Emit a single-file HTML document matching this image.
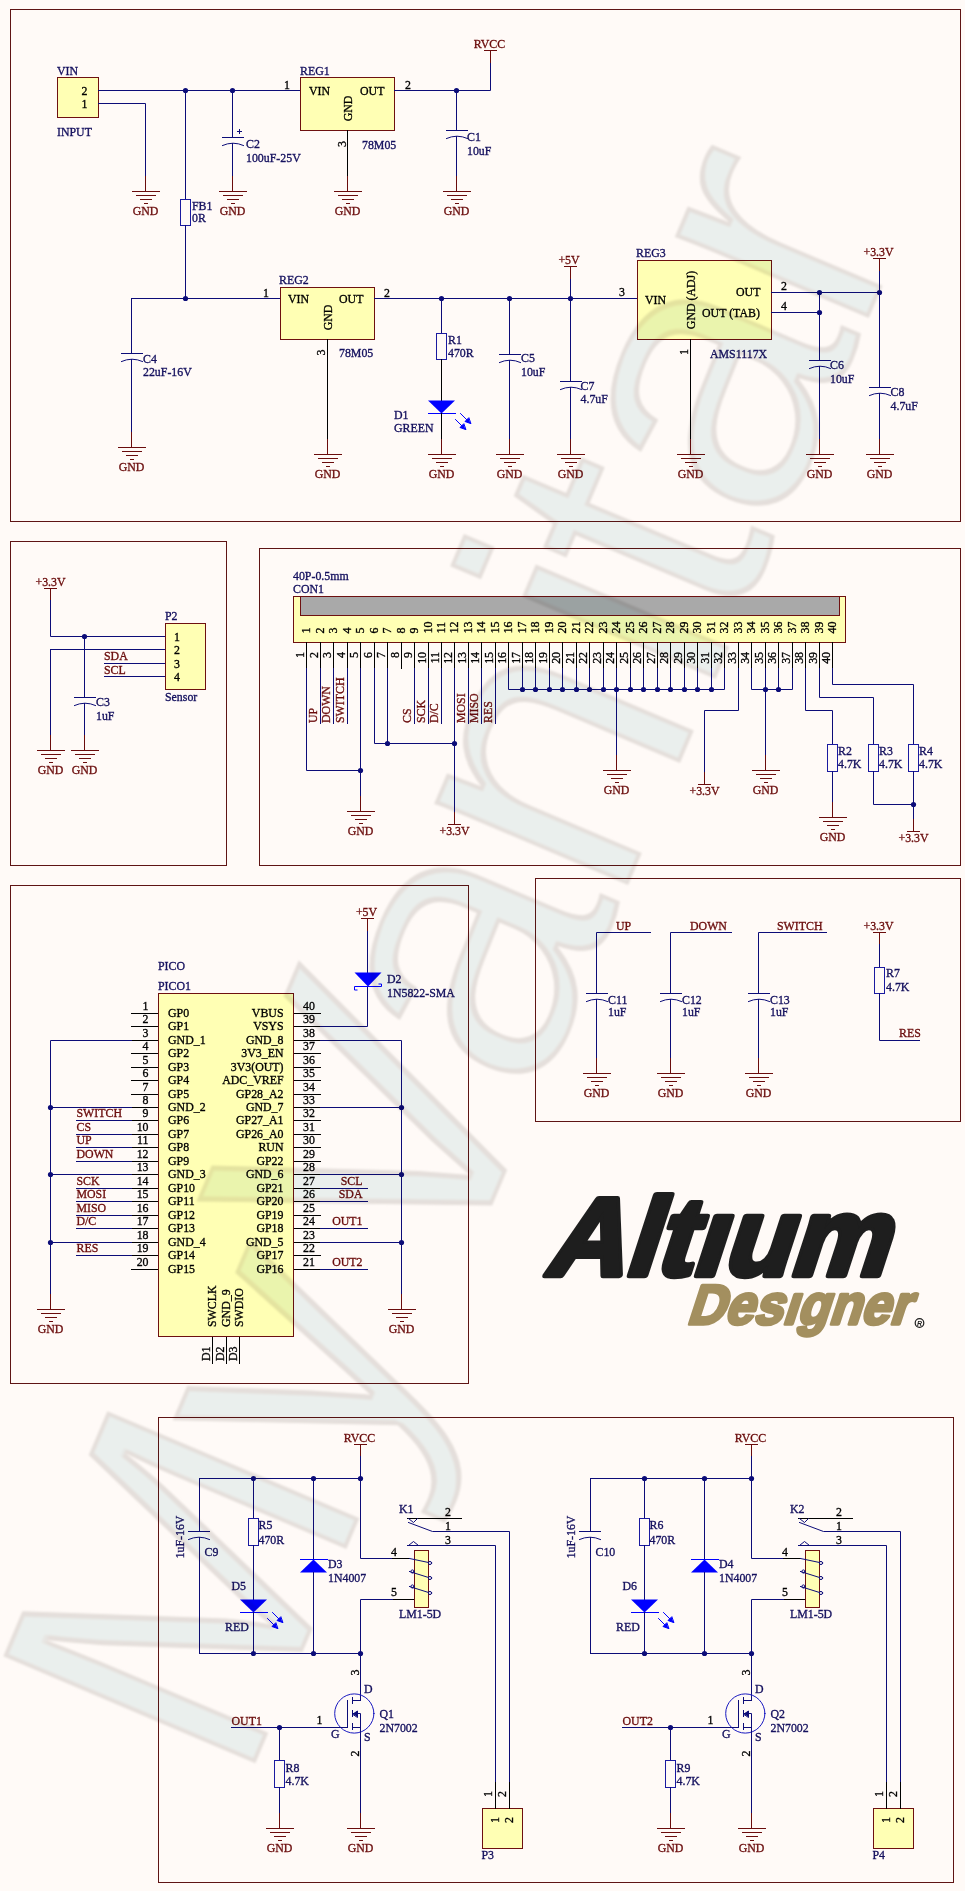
<!DOCTYPE html>
<html><head><meta charset="utf-8"><title>Schematic</title><style>
html,body{margin:0;padding:0;background:#fffaf7;}
svg{display:block;}
text{font-family:"Liberation Serif",serif;font-size:13.5px;stroke-width:0.35px;paint-order:stroke;}
.lg{font-family:"Liberation Sans",sans-serif;font-weight:bold;font-style:italic;}
</style></head>
<body><svg width="965" height="1891" viewBox="0 0 965 1891">
<rect width="965" height="1891" fill="#fffaf7"/>
<g transform="translate(0.5,0.5)" fill="none" stroke-linecap="square" stroke-linejoin="miter">
<rect x="10" y="9" width="950" height="512" fill="none" stroke="#5e1414" stroke-width="1"/>
<rect x="57" y="77" width="41" height="40" fill="#ffffb4" stroke="#6e1010" stroke-width="1"/>
<polyline points="98,90 300,90" stroke="#0c0c78" stroke-width="1"/>
<polyline points="98,103 145,103 145,176" stroke="#0c0c78" stroke-width="1"/>
<polyline points="145,176 145,191" stroke="#6a0c0c" stroke-width="1"/>
<polyline points="132,191 159,191" stroke="#6a0c0c" stroke-width="1"/>
<polyline points="136,195 155,195" stroke="#6a0c0c" stroke-width="1"/>
<polyline points="140,199 151,199" stroke="#6a0c0c" stroke-width="1"/>
<polyline points="144,203 147,203" stroke="#6a0c0c" stroke-width="1"/>
<circle cx="185" cy="90" r="2.6" fill="#0c0c78" stroke="none"/>
<circle cx="232" cy="90" r="2.6" fill="#0c0c78" stroke="none"/>
<polyline points="185,90 185,199" stroke="#0c0c78" stroke-width="1"/>
<rect x="180" y="199" width="10" height="26" fill="none" stroke="#1a1aa0" stroke-width="1"/>
<polyline points="185,225 185,298" stroke="#0c0c78" stroke-width="1"/>
<circle cx="185" cy="298" r="2.6" fill="#0c0c78" stroke="none"/>
<polyline points="232,90 232,137" stroke="#0c0c78" stroke-width="1"/>
<polyline points="222,137 243,137" stroke="#0c0c78" stroke-width="1"/>
<path d="M222,145 Q232.5,140.2 243,145" stroke="#0c0c78" fill="none" stroke-width="1"/>
<polyline points="237,131 241,131" stroke="#0c0c78" stroke-width="1"/>
<polyline points="239,129 239,133" stroke="#0c0c78" stroke-width="1"/>
<polyline points="232,143 232,176" stroke="#0c0c78" stroke-width="1"/>
<polyline points="232,176 232,191" stroke="#6a0c0c" stroke-width="1"/>
<polyline points="219,191 246,191" stroke="#6a0c0c" stroke-width="1"/>
<polyline points="223,195 242,195" stroke="#6a0c0c" stroke-width="1"/>
<polyline points="227,199 238,199" stroke="#6a0c0c" stroke-width="1"/>
<polyline points="231,203 234,203" stroke="#6a0c0c" stroke-width="1"/>
<rect x="300" y="77" width="94" height="53" fill="#ffffb4" stroke="#6e1010" stroke-width="1"/>
<polyline points="347,130 347,176" stroke="#000000" stroke-width="1"/>
<polyline points="347,176 347,191" stroke="#6a0c0c" stroke-width="1"/>
<polyline points="334,191 361,191" stroke="#6a0c0c" stroke-width="1"/>
<polyline points="338,195 357,195" stroke="#6a0c0c" stroke-width="1"/>
<polyline points="342,199 353,199" stroke="#6a0c0c" stroke-width="1"/>
<polyline points="346,203 349,203" stroke="#6a0c0c" stroke-width="1"/>
<polyline points="394,90 490,90 490,62" stroke="#0c0c78" stroke-width="1"/>
<polyline points="484,50 496,50" stroke="#6a0c0c" stroke-width="1"/>
<polyline points="490,50 490,62" stroke="#6a0c0c" stroke-width="1"/>
<circle cx="456" cy="90" r="2.6" fill="#0c0c78" stroke="none"/>
<polyline points="456,90 456,130" stroke="#0c0c78" stroke-width="1"/>
<polyline points="446,130 467,130" stroke="#0c0c78" stroke-width="1"/>
<path d="M446,138 Q456.5,133.2 467,138" stroke="#0c0c78" fill="none" stroke-width="1"/>
<polyline points="456,136 456,176" stroke="#0c0c78" stroke-width="1"/>
<polyline points="456,176 456,191" stroke="#6a0c0c" stroke-width="1"/>
<polyline points="443,191 470,191" stroke="#6a0c0c" stroke-width="1"/>
<polyline points="447,195 466,195" stroke="#6a0c0c" stroke-width="1"/>
<polyline points="451,199 462,199" stroke="#6a0c0c" stroke-width="1"/>
<polyline points="455,203 458,203" stroke="#6a0c0c" stroke-width="1"/>
<polyline points="131,298 280,298" stroke="#0c0c78" stroke-width="1"/>
<polyline points="131,298 131,353" stroke="#0c0c78" stroke-width="1"/>
<polyline points="121,353 142,353" stroke="#0c0c78" stroke-width="1"/>
<path d="M121,361 Q131.5,356.2 142,361" stroke="#0c0c78" fill="none" stroke-width="1"/>
<polyline points="131,359 131,432" stroke="#0c0c78" stroke-width="1"/>
<polyline points="131,432 131,447" stroke="#6a0c0c" stroke-width="1"/>
<polyline points="118,447 145,447" stroke="#6a0c0c" stroke-width="1"/>
<polyline points="122,451 141,451" stroke="#6a0c0c" stroke-width="1"/>
<polyline points="126,455 137,455" stroke="#6a0c0c" stroke-width="1"/>
<polyline points="130,459 133,459" stroke="#6a0c0c" stroke-width="1"/>
<rect x="280" y="287" width="94" height="52" fill="#ffffb4" stroke="#6e1010" stroke-width="1"/>
<polyline points="327,339 327,439" stroke="#000000" stroke-width="1"/>
<polyline points="327,439 327,454" stroke="#6a0c0c" stroke-width="1"/>
<polyline points="314,454 341,454" stroke="#6a0c0c" stroke-width="1"/>
<polyline points="318,458 337,458" stroke="#6a0c0c" stroke-width="1"/>
<polyline points="322,462 333,462" stroke="#6a0c0c" stroke-width="1"/>
<polyline points="326,466 329,466" stroke="#6a0c0c" stroke-width="1"/>
<polyline points="374,298 637,298" stroke="#0c0c78" stroke-width="1"/>
<circle cx="441" cy="298" r="2.6" fill="#0c0c78" stroke="none"/>
<circle cx="509" cy="298" r="2.6" fill="#0c0c78" stroke="none"/>
<circle cx="570" cy="298" r="2.6" fill="#0c0c78" stroke="none"/>
<polyline points="441,298 441,333" stroke="#0c0c78" stroke-width="1"/>
<rect x="436" y="333" width="10" height="26" fill="none" stroke="#1a1aa0" stroke-width="1"/>
<polyline points="441,359 441,400" stroke="#000000" stroke-width="1"/>
<polygon points="427.5,400 454.5,400 441,413" fill="#0000ff" stroke="none" stroke-width="1"/>
<polyline points="428,413 455,413" stroke="#0000ff" stroke-width="1"/>
<polyline points="460,413 468,421" stroke="#0000ff" stroke-width="1"/>
<polygon points="470,423 464.5,421 468,417.5" fill="#0000ff" stroke="#0000ff" stroke-width="1"/>
<polyline points="455,419 463,427" stroke="#0000ff" stroke-width="1"/>
<polygon points="465,429 459.5,427 463,423.5" fill="#0000ff" stroke="#0000ff" stroke-width="1"/>
<polyline points="441,413 441,439" stroke="#000000" stroke-width="1"/>
<polyline points="441,439 441,454" stroke="#6a0c0c" stroke-width="1"/>
<polyline points="428,454 455,454" stroke="#6a0c0c" stroke-width="1"/>
<polyline points="432,458 451,458" stroke="#6a0c0c" stroke-width="1"/>
<polyline points="436,462 447,462" stroke="#6a0c0c" stroke-width="1"/>
<polyline points="440,466 443,466" stroke="#6a0c0c" stroke-width="1"/>
<polyline points="509,298 509,354" stroke="#0c0c78" stroke-width="1"/>
<polyline points="499,354 520,354" stroke="#0c0c78" stroke-width="1"/>
<path d="M499,362 Q509.5,357.2 520,362" stroke="#0c0c78" fill="none" stroke-width="1"/>
<polyline points="509,360 509,439" stroke="#0c0c78" stroke-width="1"/>
<polyline points="509,439 509,454" stroke="#6a0c0c" stroke-width="1"/>
<polyline points="496,454 523,454" stroke="#6a0c0c" stroke-width="1"/>
<polyline points="500,458 519,458" stroke="#6a0c0c" stroke-width="1"/>
<polyline points="504,462 515,462" stroke="#6a0c0c" stroke-width="1"/>
<polyline points="508,466 511,466" stroke="#6a0c0c" stroke-width="1"/>
<polyline points="570,298 570,381" stroke="#0c0c78" stroke-width="1"/>
<polyline points="560,381 581,381" stroke="#0c0c78" stroke-width="1"/>
<path d="M560,389 Q570.5,384.2 581,389" stroke="#0c0c78" fill="none" stroke-width="1"/>
<polyline points="570,387 570,439" stroke="#0c0c78" stroke-width="1"/>
<polyline points="570,439 570,454" stroke="#6a0c0c" stroke-width="1"/>
<polyline points="557,454 584,454" stroke="#6a0c0c" stroke-width="1"/>
<polyline points="561,458 580,458" stroke="#6a0c0c" stroke-width="1"/>
<polyline points="565,462 576,462" stroke="#6a0c0c" stroke-width="1"/>
<polyline points="569,466 572,466" stroke="#6a0c0c" stroke-width="1"/>
<polyline points="570,278 570,298" stroke="#0c0c78" stroke-width="1"/>
<polyline points="564,266 576,266" stroke="#6a0c0c" stroke-width="1"/>
<polyline points="570,266 570,278" stroke="#6a0c0c" stroke-width="1"/>
<rect x="637" y="260" width="134" height="79" fill="#ffffb4" stroke="#6e1010" stroke-width="1"/>
<polyline points="690,339 690,439" stroke="#000000" stroke-width="1"/>
<polyline points="690,439 690,454" stroke="#6a0c0c" stroke-width="1"/>
<polyline points="677,454 704,454" stroke="#6a0c0c" stroke-width="1"/>
<polyline points="681,458 700,458" stroke="#6a0c0c" stroke-width="1"/>
<polyline points="685,462 696,462" stroke="#6a0c0c" stroke-width="1"/>
<polyline points="689,466 692,466" stroke="#6a0c0c" stroke-width="1"/>
<polyline points="771,292 879,292" stroke="#0c0c78" stroke-width="1"/>
<polyline points="771,312 819,312" stroke="#0c0c78" stroke-width="1"/>
<circle cx="819" cy="292" r="2.6" fill="#0c0c78" stroke="none"/>
<circle cx="819" cy="312" r="2.6" fill="#0c0c78" stroke="none"/>
<circle cx="879" cy="292" r="2.6" fill="#0c0c78" stroke="none"/>
<polyline points="819,292 819,360" stroke="#0c0c78" stroke-width="1"/>
<polyline points="809,360 830,360" stroke="#0c0c78" stroke-width="1"/>
<path d="M809,368 Q819.5,363.2 830,368" stroke="#0c0c78" fill="none" stroke-width="1"/>
<polyline points="819,366 819,439" stroke="#0c0c78" stroke-width="1"/>
<polyline points="819,439 819,454" stroke="#6a0c0c" stroke-width="1"/>
<polyline points="806,454 833,454" stroke="#6a0c0c" stroke-width="1"/>
<polyline points="810,458 829,458" stroke="#6a0c0c" stroke-width="1"/>
<polyline points="814,462 825,462" stroke="#6a0c0c" stroke-width="1"/>
<polyline points="818,466 821,466" stroke="#6a0c0c" stroke-width="1"/>
<polyline points="879,270 879,387" stroke="#0c0c78" stroke-width="1"/>
<polyline points="869,387 890,387" stroke="#0c0c78" stroke-width="1"/>
<path d="M869,395 Q879.5,390.2 890,395" stroke="#0c0c78" fill="none" stroke-width="1"/>
<polyline points="879,393 879,439" stroke="#0c0c78" stroke-width="1"/>
<polyline points="879,439 879,454" stroke="#6a0c0c" stroke-width="1"/>
<polyline points="866,454 893,454" stroke="#6a0c0c" stroke-width="1"/>
<polyline points="870,458 889,458" stroke="#6a0c0c" stroke-width="1"/>
<polyline points="874,462 885,462" stroke="#6a0c0c" stroke-width="1"/>
<polyline points="878,466 881,466" stroke="#6a0c0c" stroke-width="1"/>
<polyline points="873,258 885,258" stroke="#6a0c0c" stroke-width="1"/>
<polyline points="879,258 879,270" stroke="#6a0c0c" stroke-width="1"/>
<rect x="10" y="541" width="216" height="324" fill="none" stroke="#5e1414" stroke-width="1"/>
<polyline points="44,588 56,588" stroke="#6a0c0c" stroke-width="1"/>
<polyline points="50,588 50,600" stroke="#6a0c0c" stroke-width="1"/>
<polyline points="50,600 50,636 165,636" stroke="#0c0c78" stroke-width="1"/>
<circle cx="84" cy="636" r="2.6" fill="#0c0c78" stroke="none"/>
<polyline points="50,649 165,649" stroke="#0c0c78" stroke-width="1"/>
<polyline points="50,649 50,735" stroke="#0c0c78" stroke-width="1"/>
<polyline points="50,735 50,750" stroke="#6a0c0c" stroke-width="1"/>
<polyline points="37,750 64,750" stroke="#6a0c0c" stroke-width="1"/>
<polyline points="41,754 60,754" stroke="#6a0c0c" stroke-width="1"/>
<polyline points="45,758 56,758" stroke="#6a0c0c" stroke-width="1"/>
<polyline points="49,762 52,762" stroke="#6a0c0c" stroke-width="1"/>
<polyline points="84,636 84,697" stroke="#0c0c78" stroke-width="1"/>
<polyline points="74,697 95,697" stroke="#0c0c78" stroke-width="1"/>
<path d="M74,705 Q84.5,700.2 95,705" stroke="#0c0c78" fill="none" stroke-width="1"/>
<polyline points="84,703 84,735" stroke="#0c0c78" stroke-width="1"/>
<polyline points="84,735 84,750" stroke="#6a0c0c" stroke-width="1"/>
<polyline points="71,750 98,750" stroke="#6a0c0c" stroke-width="1"/>
<polyline points="75,754 94,754" stroke="#6a0c0c" stroke-width="1"/>
<polyline points="79,758 90,758" stroke="#6a0c0c" stroke-width="1"/>
<polyline points="83,762 86,762" stroke="#6a0c0c" stroke-width="1"/>
<polyline points="104,663 165,663" stroke="#0c0c78" stroke-width="1"/>
<polyline points="104,676 165,676" stroke="#0c0c78" stroke-width="1"/>
<rect x="165" y="623" width="40" height="66" fill="#ffffb4" stroke="#6e1010" stroke-width="1"/>
<rect x="259" y="548" width="701" height="317" fill="none" stroke="#5e1414" stroke-width="1"/>
<rect x="293" y="596" width="552" height="46" fill="#ffffb4" stroke="#6e1010" stroke-width="1"/>
<rect x="300" y="596" width="539" height="19" fill="#a9a9a9" stroke="#6e1010" stroke-width="1"/>
<polyline points="306,642 306,668" stroke="#000000" stroke-width="1"/>
<polyline points="320,642 320,668" stroke="#000000" stroke-width="1"/>
<polyline points="333,642 333,668" stroke="#000000" stroke-width="1"/>
<polyline points="347,642 347,668" stroke="#000000" stroke-width="1"/>
<polyline points="360,642 360,668" stroke="#000000" stroke-width="1"/>
<polyline points="374,642 374,668" stroke="#000000" stroke-width="1"/>
<polyline points="387,642 387,668" stroke="#000000" stroke-width="1"/>
<polyline points="401,642 401,668" stroke="#000000" stroke-width="1"/>
<polyline points="414,642 414,668" stroke="#000000" stroke-width="1"/>
<polyline points="428,642 428,668" stroke="#000000" stroke-width="1"/>
<polyline points="441,642 441,668" stroke="#000000" stroke-width="1"/>
<polyline points="454,642 454,668" stroke="#000000" stroke-width="1"/>
<polyline points="468,642 468,668" stroke="#000000" stroke-width="1"/>
<polyline points="481,642 481,668" stroke="#000000" stroke-width="1"/>
<polyline points="495,642 495,668" stroke="#000000" stroke-width="1"/>
<polyline points="508,642 508,668" stroke="#000000" stroke-width="1"/>
<polyline points="522,642 522,668" stroke="#000000" stroke-width="1"/>
<polyline points="535,642 535,668" stroke="#000000" stroke-width="1"/>
<polyline points="549,642 549,668" stroke="#000000" stroke-width="1"/>
<polyline points="562,642 562,668" stroke="#000000" stroke-width="1"/>
<polyline points="576,642 576,668" stroke="#000000" stroke-width="1"/>
<polyline points="589,642 589,668" stroke="#000000" stroke-width="1"/>
<polyline points="603,642 603,668" stroke="#000000" stroke-width="1"/>
<polyline points="616,642 616,668" stroke="#000000" stroke-width="1"/>
<polyline points="630,642 630,668" stroke="#000000" stroke-width="1"/>
<polyline points="643,642 643,668" stroke="#000000" stroke-width="1"/>
<polyline points="657,642 657,668" stroke="#000000" stroke-width="1"/>
<polyline points="670,642 670,668" stroke="#000000" stroke-width="1"/>
<polyline points="684,642 684,668" stroke="#000000" stroke-width="1"/>
<polyline points="697,642 697,668" stroke="#000000" stroke-width="1"/>
<polyline points="711,642 711,668" stroke="#000000" stroke-width="1"/>
<polyline points="724,642 724,668" stroke="#000000" stroke-width="1"/>
<polyline points="738,642 738,668" stroke="#000000" stroke-width="1"/>
<polyline points="751,642 751,668" stroke="#000000" stroke-width="1"/>
<polyline points="765,642 765,668" stroke="#000000" stroke-width="1"/>
<polyline points="778,642 778,668" stroke="#000000" stroke-width="1"/>
<polyline points="792,642 792,668" stroke="#000000" stroke-width="1"/>
<polyline points="805,642 805,668" stroke="#000000" stroke-width="1"/>
<polyline points="819,642 819,668" stroke="#000000" stroke-width="1"/>
<polyline points="832,642 832,668" stroke="#000000" stroke-width="1"/>
<polyline points="306,668 306,770 360,770" stroke="#0c0c78" stroke-width="1"/>
<circle cx="360" cy="770" r="2.6" fill="#0c0c78" stroke="none"/>
<polyline points="360,668 360,796" stroke="#0c0c78" stroke-width="1"/>
<polyline points="360,796 360,811" stroke="#6a0c0c" stroke-width="1"/>
<polyline points="347,811 374,811" stroke="#6a0c0c" stroke-width="1"/>
<polyline points="351,815 370,815" stroke="#6a0c0c" stroke-width="1"/>
<polyline points="355,819 366,819" stroke="#6a0c0c" stroke-width="1"/>
<polyline points="359,823 362,823" stroke="#6a0c0c" stroke-width="1"/>
<polyline points="320,668 320,723" stroke="#0c0c78" stroke-width="1"/>
<polyline points="333,668 333,723" stroke="#0c0c78" stroke-width="1"/>
<polyline points="347,668 347,723" stroke="#0c0c78" stroke-width="1"/>
<polyline points="414,668 414,723" stroke="#0c0c78" stroke-width="1"/>
<polyline points="428,668 428,723" stroke="#0c0c78" stroke-width="1"/>
<polyline points="441,668 441,723" stroke="#0c0c78" stroke-width="1"/>
<polyline points="468,668 468,723" stroke="#0c0c78" stroke-width="1"/>
<polyline points="481,668 481,723" stroke="#0c0c78" stroke-width="1"/>
<polyline points="495,668 495,723" stroke="#0c0c78" stroke-width="1"/>
<polyline points="374,668 374,743 454,743" stroke="#0c0c78" stroke-width="1"/>
<polyline points="387,668 387,743" stroke="#0c0c78" stroke-width="1"/>
<circle cx="387" cy="743" r="2.6" fill="#0c0c78" stroke="none"/>
<circle cx="454" cy="743" r="2.6" fill="#0c0c78" stroke="none"/>
<polyline points="454,668 454,812" stroke="#0c0c78" stroke-width="1"/>
<polyline points="448,824 460,824" stroke="#6a0c0c" stroke-width="1"/>
<polyline points="454,812 454,824" stroke="#6a0c0c" stroke-width="1"/>
<polyline points="508,668 508,689 724,689 724,668" stroke="#0c0c78" stroke-width="1"/>
<polyline points="522,668 522,689" stroke="#0c0c78" stroke-width="1"/>
<circle cx="522" cy="689" r="2.6" fill="#0c0c78" stroke="none"/>
<polyline points="535,668 535,689" stroke="#0c0c78" stroke-width="1"/>
<circle cx="535" cy="689" r="2.6" fill="#0c0c78" stroke="none"/>
<polyline points="549,668 549,689" stroke="#0c0c78" stroke-width="1"/>
<circle cx="549" cy="689" r="2.6" fill="#0c0c78" stroke="none"/>
<polyline points="562,668 562,689" stroke="#0c0c78" stroke-width="1"/>
<circle cx="562" cy="689" r="2.6" fill="#0c0c78" stroke="none"/>
<polyline points="576,668 576,689" stroke="#0c0c78" stroke-width="1"/>
<circle cx="576" cy="689" r="2.6" fill="#0c0c78" stroke="none"/>
<polyline points="589,668 589,689" stroke="#0c0c78" stroke-width="1"/>
<circle cx="589" cy="689" r="2.6" fill="#0c0c78" stroke="none"/>
<polyline points="603,668 603,689" stroke="#0c0c78" stroke-width="1"/>
<circle cx="603" cy="689" r="2.6" fill="#0c0c78" stroke="none"/>
<polyline points="616,668 616,689" stroke="#0c0c78" stroke-width="1"/>
<circle cx="616" cy="689" r="2.6" fill="#0c0c78" stroke="none"/>
<polyline points="630,668 630,689" stroke="#0c0c78" stroke-width="1"/>
<circle cx="630" cy="689" r="2.6" fill="#0c0c78" stroke="none"/>
<polyline points="643,668 643,689" stroke="#0c0c78" stroke-width="1"/>
<circle cx="643" cy="689" r="2.6" fill="#0c0c78" stroke="none"/>
<polyline points="657,668 657,689" stroke="#0c0c78" stroke-width="1"/>
<circle cx="657" cy="689" r="2.6" fill="#0c0c78" stroke="none"/>
<polyline points="670,668 670,689" stroke="#0c0c78" stroke-width="1"/>
<circle cx="670" cy="689" r="2.6" fill="#0c0c78" stroke="none"/>
<polyline points="684,668 684,689" stroke="#0c0c78" stroke-width="1"/>
<circle cx="684" cy="689" r="2.6" fill="#0c0c78" stroke="none"/>
<polyline points="697,668 697,689" stroke="#0c0c78" stroke-width="1"/>
<circle cx="697" cy="689" r="2.6" fill="#0c0c78" stroke="none"/>
<polyline points="711,668 711,689" stroke="#0c0c78" stroke-width="1"/>
<circle cx="711" cy="689" r="2.6" fill="#0c0c78" stroke="none"/>
<polyline points="616,689 616,755" stroke="#0c0c78" stroke-width="1"/>
<polyline points="616,755 616,770" stroke="#6a0c0c" stroke-width="1"/>
<polyline points="603,770 630,770" stroke="#6a0c0c" stroke-width="1"/>
<polyline points="607,774 626,774" stroke="#6a0c0c" stroke-width="1"/>
<polyline points="611,778 622,778" stroke="#6a0c0c" stroke-width="1"/>
<polyline points="615,782 618,782" stroke="#6a0c0c" stroke-width="1"/>
<polyline points="738,668 738,710 704,710 704,772" stroke="#0c0c78" stroke-width="1"/>
<polyline points="698,784 710,784" stroke="#6a0c0c" stroke-width="1"/>
<polyline points="704,772 704,784" stroke="#6a0c0c" stroke-width="1"/>
<polyline points="751,668 751,689 792,689 792,668" stroke="#0c0c78" stroke-width="1"/>
<polyline points="765,668 765,755" stroke="#0c0c78" stroke-width="1"/>
<polyline points="778,668 778,689" stroke="#0c0c78" stroke-width="1"/>
<circle cx="765" cy="689" r="2.6" fill="#0c0c78" stroke="none"/>
<circle cx="778" cy="689" r="2.6" fill="#0c0c78" stroke="none"/>
<polyline points="765,755 765,770" stroke="#6a0c0c" stroke-width="1"/>
<polyline points="752,770 779,770" stroke="#6a0c0c" stroke-width="1"/>
<polyline points="756,774 775,774" stroke="#6a0c0c" stroke-width="1"/>
<polyline points="760,778 771,778" stroke="#6a0c0c" stroke-width="1"/>
<polyline points="764,782 767,782" stroke="#6a0c0c" stroke-width="1"/>
<polyline points="805,668 805,710 832,710 832,744" stroke="#0c0c78" stroke-width="1"/>
<rect x="827" y="744" width="10" height="27" fill="none" stroke="#1a1aa0" stroke-width="1"/>
<polyline points="832,771 832,802" stroke="#0c0c78" stroke-width="1"/>
<polyline points="832,802 832,817" stroke="#6a0c0c" stroke-width="1"/>
<polyline points="819,817 846,817" stroke="#6a0c0c" stroke-width="1"/>
<polyline points="823,821 842,821" stroke="#6a0c0c" stroke-width="1"/>
<polyline points="827,825 838,825" stroke="#6a0c0c" stroke-width="1"/>
<polyline points="831,829 834,829" stroke="#6a0c0c" stroke-width="1"/>
<polyline points="819,668 819,697 873,697 873,744" stroke="#0c0c78" stroke-width="1"/>
<rect x="868" y="744" width="10" height="27" fill="none" stroke="#1a1aa0" stroke-width="1"/>
<polyline points="873,771 873,804 913,804" stroke="#0c0c78" stroke-width="1"/>
<polyline points="832,668 832,684 913,684 913,744" stroke="#0c0c78" stroke-width="1"/>
<rect x="908" y="744" width="10" height="27" fill="none" stroke="#1a1aa0" stroke-width="1"/>
<polyline points="913,771 913,819" stroke="#0c0c78" stroke-width="1"/>
<circle cx="913" cy="804" r="2.6" fill="#0c0c78" stroke="none"/>
<polyline points="907,831 919,831" stroke="#6a0c0c" stroke-width="1"/>
<polyline points="913,819 913,831" stroke="#6a0c0c" stroke-width="1"/>
<rect x="10" y="885" width="458" height="498" fill="none" stroke="#5e1414" stroke-width="1"/>
<rect x="158" y="993" width="135" height="343" fill="#ffffb4" stroke="#6e1010" stroke-width="1"/>
<polyline points="131,1013 157,1013" stroke="#000000" stroke-width="1"/>
<polyline points="294,1013 320,1013" stroke="#000000" stroke-width="1"/>
<polyline points="131,1026 157,1026" stroke="#000000" stroke-width="1"/>
<polyline points="294,1026 320,1026" stroke="#000000" stroke-width="1"/>
<polyline points="131,1040 157,1040" stroke="#000000" stroke-width="1"/>
<polyline points="294,1040 320,1040" stroke="#000000" stroke-width="1"/>
<polyline points="131,1053 157,1053" stroke="#000000" stroke-width="1"/>
<polyline points="294,1053 320,1053" stroke="#000000" stroke-width="1"/>
<polyline points="131,1067 157,1067" stroke="#000000" stroke-width="1"/>
<polyline points="294,1067 320,1067" stroke="#000000" stroke-width="1"/>
<polyline points="131,1080 157,1080" stroke="#000000" stroke-width="1"/>
<polyline points="294,1080 320,1080" stroke="#000000" stroke-width="1"/>
<polyline points="131,1094 157,1094" stroke="#000000" stroke-width="1"/>
<polyline points="294,1094 320,1094" stroke="#000000" stroke-width="1"/>
<polyline points="131,1107 157,1107" stroke="#000000" stroke-width="1"/>
<polyline points="294,1107 320,1107" stroke="#000000" stroke-width="1"/>
<polyline points="131,1120 157,1120" stroke="#000000" stroke-width="1"/>
<polyline points="294,1120 320,1120" stroke="#000000" stroke-width="1"/>
<polyline points="131,1134 157,1134" stroke="#000000" stroke-width="1"/>
<polyline points="294,1134 320,1134" stroke="#000000" stroke-width="1"/>
<polyline points="131,1147 157,1147" stroke="#000000" stroke-width="1"/>
<polyline points="294,1147 320,1147" stroke="#000000" stroke-width="1"/>
<polyline points="131,1161 157,1161" stroke="#000000" stroke-width="1"/>
<polyline points="294,1161 320,1161" stroke="#000000" stroke-width="1"/>
<polyline points="131,1174 157,1174" stroke="#000000" stroke-width="1"/>
<polyline points="294,1174 320,1174" stroke="#000000" stroke-width="1"/>
<polyline points="131,1188 157,1188" stroke="#000000" stroke-width="1"/>
<polyline points="294,1188 320,1188" stroke="#000000" stroke-width="1"/>
<polyline points="131,1201 157,1201" stroke="#000000" stroke-width="1"/>
<polyline points="294,1201 320,1201" stroke="#000000" stroke-width="1"/>
<polyline points="131,1215 157,1215" stroke="#000000" stroke-width="1"/>
<polyline points="294,1215 320,1215" stroke="#000000" stroke-width="1"/>
<polyline points="131,1228 157,1228" stroke="#000000" stroke-width="1"/>
<polyline points="294,1228 320,1228" stroke="#000000" stroke-width="1"/>
<polyline points="131,1242 157,1242" stroke="#000000" stroke-width="1"/>
<polyline points="294,1242 320,1242" stroke="#000000" stroke-width="1"/>
<polyline points="131,1255 157,1255" stroke="#000000" stroke-width="1"/>
<polyline points="294,1255 320,1255" stroke="#000000" stroke-width="1"/>
<polyline points="131,1269 157,1269" stroke="#000000" stroke-width="1"/>
<polyline points="294,1269 320,1269" stroke="#000000" stroke-width="1"/>
<polyline points="131,1040 50,1040 50,1294" stroke="#0c0c78" stroke-width="1"/>
<polyline points="50,1294 50,1309" stroke="#6a0c0c" stroke-width="1"/>
<polyline points="37,1309 64,1309" stroke="#6a0c0c" stroke-width="1"/>
<polyline points="41,1313 60,1313" stroke="#6a0c0c" stroke-width="1"/>
<polyline points="45,1317 56,1317" stroke="#6a0c0c" stroke-width="1"/>
<polyline points="49,1321 52,1321" stroke="#6a0c0c" stroke-width="1"/>
<polyline points="50,1107 131,1107" stroke="#0c0c78" stroke-width="1"/>
<circle cx="50" cy="1107" r="2.6" fill="#0c0c78" stroke="none"/>
<polyline points="50,1174 131,1174" stroke="#0c0c78" stroke-width="1"/>
<circle cx="50" cy="1174" r="2.6" fill="#0c0c78" stroke="none"/>
<polyline points="50,1242 131,1242" stroke="#0c0c78" stroke-width="1"/>
<circle cx="50" cy="1242" r="2.6" fill="#0c0c78" stroke="none"/>
<polyline points="76,1120 131,1120" stroke="#0c0c78" stroke-width="1"/>
<polyline points="76,1134 131,1134" stroke="#0c0c78" stroke-width="1"/>
<polyline points="76,1147 131,1147" stroke="#0c0c78" stroke-width="1"/>
<polyline points="76,1161 131,1161" stroke="#0c0c78" stroke-width="1"/>
<polyline points="76,1188 131,1188" stroke="#0c0c78" stroke-width="1"/>
<polyline points="76,1201 131,1201" stroke="#0c0c78" stroke-width="1"/>
<polyline points="76,1215 131,1215" stroke="#0c0c78" stroke-width="1"/>
<polyline points="76,1228 131,1228" stroke="#0c0c78" stroke-width="1"/>
<polyline points="76,1255 131,1255" stroke="#0c0c78" stroke-width="1"/>
<polyline points="320,1026 367,1026 367,986" stroke="#0c0c78" stroke-width="1"/>
<polyline points="367,930 367,972" stroke="#0c0c78" stroke-width="1"/>
<polyline points="361,918 373,918" stroke="#6a0c0c" stroke-width="1"/>
<polyline points="367,918 367,930" stroke="#6a0c0c" stroke-width="1"/>
<polygon points="354,972 381,972 367.5,986" fill="#0000ff" stroke="none" stroke-width="1"/>
<polyline points="356.5,989.5 354,989.5 354,986 381,986 381,983.5 378.5,983.5" stroke="#0000ff" stroke-width="1"/>
<polyline points="320,1040 401,1040 401,1294" stroke="#0c0c78" stroke-width="1"/>
<polyline points="401,1294 401,1309" stroke="#6a0c0c" stroke-width="1"/>
<polyline points="388,1309 415,1309" stroke="#6a0c0c" stroke-width="1"/>
<polyline points="392,1313 411,1313" stroke="#6a0c0c" stroke-width="1"/>
<polyline points="396,1317 407,1317" stroke="#6a0c0c" stroke-width="1"/>
<polyline points="400,1321 403,1321" stroke="#6a0c0c" stroke-width="1"/>
<polyline points="320,1107 401,1107" stroke="#0c0c78" stroke-width="1"/>
<circle cx="401" cy="1107" r="2.6" fill="#0c0c78" stroke="none"/>
<polyline points="320,1174 401,1174" stroke="#0c0c78" stroke-width="1"/>
<circle cx="401" cy="1174" r="2.6" fill="#0c0c78" stroke="none"/>
<polyline points="320,1242 401,1242" stroke="#0c0c78" stroke-width="1"/>
<circle cx="401" cy="1242" r="2.6" fill="#0c0c78" stroke="none"/>
<polyline points="320,1188 367,1188" stroke="#0c0c78" stroke-width="1"/>
<polyline points="320,1201 367,1201" stroke="#0c0c78" stroke-width="1"/>
<polyline points="320,1228 367,1228" stroke="#0c0c78" stroke-width="1"/>
<polyline points="320,1269 367,1269" stroke="#0c0c78" stroke-width="1"/>
<polyline points="212,1337 212,1363" stroke="#000000" stroke-width="1"/>
<polyline points="226,1337 226,1363" stroke="#000000" stroke-width="1"/>
<polyline points="239,1337 239,1363" stroke="#000000" stroke-width="1"/>
<rect x="535" y="878" width="425" height="243" fill="none" stroke="#5e1414" stroke-width="1"/>
<polyline points="650,932 596,932 596,993" stroke="#0c0c78" stroke-width="1"/>
<polyline points="586,993 607,993" stroke="#0c0c78" stroke-width="1"/>
<path d="M586,1001 Q596.5,996.2 607,1001" stroke="#0c0c78" fill="none" stroke-width="1"/>
<polyline points="596,999 596,1058" stroke="#0c0c78" stroke-width="1"/>
<polyline points="596,1058 596,1073" stroke="#6a0c0c" stroke-width="1"/>
<polyline points="583,1073 610,1073" stroke="#6a0c0c" stroke-width="1"/>
<polyline points="587,1077 606,1077" stroke="#6a0c0c" stroke-width="1"/>
<polyline points="591,1081 602,1081" stroke="#6a0c0c" stroke-width="1"/>
<polyline points="595,1085 598,1085" stroke="#6a0c0c" stroke-width="1"/>
<polyline points="731,932 670,932 670,993" stroke="#0c0c78" stroke-width="1"/>
<polyline points="660,993 681,993" stroke="#0c0c78" stroke-width="1"/>
<path d="M660,1001 Q670.5,996.2 681,1001" stroke="#0c0c78" fill="none" stroke-width="1"/>
<polyline points="670,999 670,1058" stroke="#0c0c78" stroke-width="1"/>
<polyline points="670,1058 670,1073" stroke="#6a0c0c" stroke-width="1"/>
<polyline points="657,1073 684,1073" stroke="#6a0c0c" stroke-width="1"/>
<polyline points="661,1077 680,1077" stroke="#6a0c0c" stroke-width="1"/>
<polyline points="665,1081 676,1081" stroke="#6a0c0c" stroke-width="1"/>
<polyline points="669,1085 672,1085" stroke="#6a0c0c" stroke-width="1"/>
<polyline points="826,932 758,932 758,993" stroke="#0c0c78" stroke-width="1"/>
<polyline points="748,993 769,993" stroke="#0c0c78" stroke-width="1"/>
<path d="M748,1001 Q758.5,996.2 769,1001" stroke="#0c0c78" fill="none" stroke-width="1"/>
<polyline points="758,999 758,1058" stroke="#0c0c78" stroke-width="1"/>
<polyline points="758,1058 758,1073" stroke="#6a0c0c" stroke-width="1"/>
<polyline points="745,1073 772,1073" stroke="#6a0c0c" stroke-width="1"/>
<polyline points="749,1077 768,1077" stroke="#6a0c0c" stroke-width="1"/>
<polyline points="753,1081 764,1081" stroke="#6a0c0c" stroke-width="1"/>
<polyline points="757,1085 760,1085" stroke="#6a0c0c" stroke-width="1"/>
<polyline points="873,932 885,932" stroke="#6a0c0c" stroke-width="1"/>
<polyline points="879,932 879,944" stroke="#6a0c0c" stroke-width="1"/>
<polyline points="879,944 879,967" stroke="#0c0c78" stroke-width="1"/>
<rect x="874" y="967" width="10" height="26" fill="none" stroke="#1a1aa0" stroke-width="1"/>
<polyline points="879,993 879,1040 919,1040" stroke="#0c0c78" stroke-width="1"/>
<rect x="158" y="1417" width="795" height="465" fill="none" stroke="#5e1414" stroke-width="1"/>
<polyline points="354,1444 366,1444" stroke="#6a0c0c" stroke-width="1"/>
<polyline points="360,1444 360,1456" stroke="#6a0c0c" stroke-width="1"/>
<polyline points="360,1456 360,1478" stroke="#0c0c78" stroke-width="1"/>
<polyline points="199,1478 360,1478" stroke="#0c0c78" stroke-width="1"/>
<polyline points="199,1653 360,1653" stroke="#0c0c78" stroke-width="1"/>
<circle cx="253" cy="1478" r="2.6" fill="#0c0c78" stroke="none"/>
<circle cx="253" cy="1653" r="2.6" fill="#0c0c78" stroke="none"/>
<circle cx="313" cy="1478" r="2.6" fill="#0c0c78" stroke="none"/>
<circle cx="313" cy="1653" r="2.6" fill="#0c0c78" stroke="none"/>
<circle cx="360" cy="1478" r="2.6" fill="#0c0c78" stroke="none"/>
<circle cx="360" cy="1653" r="2.6" fill="#0c0c78" stroke="none"/>
<polyline points="199,1478 199,1531" stroke="#0c0c78" stroke-width="1"/>
<polyline points="188,1531 209,1531" stroke="#0c0c78" stroke-width="1"/>
<path d="M188,1539 Q198.5,1534.2 209,1539" stroke="#0c0c78" fill="none" stroke-width="1"/>
<polyline points="199,1537 199,1653" stroke="#0c0c78" stroke-width="1"/>
<polyline points="253,1478 253,1518" stroke="#0c0c78" stroke-width="1"/>
<rect x="248" y="1518" width="10" height="27" fill="none" stroke="#1a1aa0" stroke-width="1"/>
<polyline points="253,1545 253,1599" stroke="#0c0c78" stroke-width="1"/>
<polygon points="239.5,1599 266.5,1599 253,1612" fill="#0000ff" stroke="none" stroke-width="1"/>
<polyline points="240,1612 267,1612" stroke="#0000ff" stroke-width="1"/>
<polyline points="272,1612 280,1620" stroke="#0000ff" stroke-width="1"/>
<polygon points="282,1622 276.5,1620 280,1616.5" fill="#0000ff" stroke="#0000ff" stroke-width="1"/>
<polyline points="267,1618 275,1626" stroke="#0000ff" stroke-width="1"/>
<polygon points="277,1628 271.5,1626 275,1622.5" fill="#0000ff" stroke="#0000ff" stroke-width="1"/>
<polyline points="253,1612 253,1653" stroke="#0c0c78" stroke-width="1"/>
<polyline points="313,1478 313,1559" stroke="#0c0c78" stroke-width="1"/>
<polygon points="299.5,1572 326.5,1572 313,1559" fill="#0000ff" stroke="none" stroke-width="1"/>
<polyline points="300,1559 327,1559" stroke="#0000ff" stroke-width="1"/>
<polyline points="313,1572 313,1653" stroke="#0c0c78" stroke-width="1"/>
<polyline points="360,1478 360,1558 392,1558" stroke="#0c0c78" stroke-width="1"/>
<polyline points="392,1558 409,1558" stroke="#000000" stroke-width="1"/>
<polyline points="414,1599 392,1599" stroke="#000000" stroke-width="1"/>
<polyline points="392,1599 360,1599 360,1653" stroke="#0c0c78" stroke-width="1"/>
<rect x="414" y="1550" width="14" height="57" fill="#ffffb4" stroke="#6e1010" stroke-width="1"/>
<polyline points="409,1558 428,1562" stroke="#0c0c78" stroke-width="1"/>
<circle cx="429.5" cy="1562.5" r="1.6" stroke="#0c0c78" fill="none"/>
<polyline points="409,1571 428,1577" stroke="#0c0c78" stroke-width="1"/>
<circle cx="429.5" cy="1577.5" r="1.6" stroke="#0c0c78" fill="none"/>
<polyline points="409,1586 428,1592" stroke="#0c0c78" stroke-width="1"/>
<circle cx="429.5" cy="1592.5" r="1.6" stroke="#0c0c78" fill="none"/>
<circle cx="412" cy="1571" r="1.6" stroke="#0c0c78" fill="none"/>
<circle cx="412" cy="1586" r="1.6" stroke="#0c0c78" fill="none"/>
<polyline points="407,1518 461,1518" stroke="#000000" stroke-width="1"/>
<polyline points="408,1518 413,1522 417,1518" stroke="#0c0c78" stroke-width="1"/>
<polyline points="408,1522 432,1531 480,1531" stroke="#0c0c78" stroke-width="1"/>
<polyline points="480,1531 509,1531 509,1808" stroke="#0c0c78" stroke-width="1"/>
<polyline points="407,1545 495,1545 495,1808" stroke="#0c0c78" stroke-width="1"/>
<polyline points="408,1545 413,1541 418,1545" stroke="#0c0c78" stroke-width="1"/>
<rect x="482" y="1808" width="40" height="40" fill="#ffffb4" stroke="#6e1010" stroke-width="1"/>
<polyline points="495,1782 495,1808" stroke="#000000" stroke-width="1"/>
<polyline points="509,1782 509,1808" stroke="#000000" stroke-width="1"/>
<polyline points="360,1653 360,1700" stroke="#0c0c78" stroke-width="1"/>
<polyline points="360,1700 352,1700" stroke="#0c0c78" stroke-width="1"/>
<polyline points="352,1697 352,1703" stroke="#0c0c78" stroke-width="1"/>
<polyline points="352,1710 352,1716" stroke="#0c0c78" stroke-width="1"/>
<polyline points="352,1723 352,1729" stroke="#0c0c78" stroke-width="1"/>
<polyline points="352,1713 360,1713 360,1727 352,1727" stroke="#0c0c78" stroke-width="1"/>
<polygon points="352.5,1713.5 357,1710.5 357,1716.5" fill="#0c0c78" stroke="#0c0c78" stroke-width="1"/>
<polyline points="347,1700 347,1727" stroke="#0c0c78" stroke-width="1"/>
<circle cx="353.8" cy="1713" r="19.6" stroke="#1818c0" fill="none"/>
<polyline points="360,1727 360,1813" stroke="#0c0c78" stroke-width="1"/>
<polyline points="360,1813 360,1828" stroke="#6a0c0c" stroke-width="1"/>
<polyline points="347,1828 374,1828" stroke="#6a0c0c" stroke-width="1"/>
<polyline points="351,1832 370,1832" stroke="#6a0c0c" stroke-width="1"/>
<polyline points="355,1836 366,1836" stroke="#6a0c0c" stroke-width="1"/>
<polyline points="359,1840 362,1840" stroke="#6a0c0c" stroke-width="1"/>
<polyline points="231,1727 347,1727" stroke="#0c0c78" stroke-width="1"/>
<circle cx="279" cy="1727" r="2.6" fill="#0c0c78" stroke="none"/>
<polyline points="279,1727 279,1760" stroke="#0c0c78" stroke-width="1"/>
<rect x="274" y="1760" width="10" height="27" fill="none" stroke="#1a1aa0" stroke-width="1"/>
<polyline points="279,1787 279,1813" stroke="#0c0c78" stroke-width="1"/>
<polyline points="279,1813 279,1828" stroke="#6a0c0c" stroke-width="1"/>
<polyline points="266,1828 293,1828" stroke="#6a0c0c" stroke-width="1"/>
<polyline points="270,1832 289,1832" stroke="#6a0c0c" stroke-width="1"/>
<polyline points="274,1836 285,1836" stroke="#6a0c0c" stroke-width="1"/>
<polyline points="278,1840 281,1840" stroke="#6a0c0c" stroke-width="1"/>
<polyline points="745,1444 757,1444" stroke="#6a0c0c" stroke-width="1"/>
<polyline points="751,1444 751,1456" stroke="#6a0c0c" stroke-width="1"/>
<polyline points="751,1456 751,1478" stroke="#0c0c78" stroke-width="1"/>
<polyline points="590,1478 751,1478" stroke="#0c0c78" stroke-width="1"/>
<polyline points="590,1653 751,1653" stroke="#0c0c78" stroke-width="1"/>
<circle cx="644" cy="1478" r="2.6" fill="#0c0c78" stroke="none"/>
<circle cx="644" cy="1653" r="2.6" fill="#0c0c78" stroke="none"/>
<circle cx="704" cy="1478" r="2.6" fill="#0c0c78" stroke="none"/>
<circle cx="704" cy="1653" r="2.6" fill="#0c0c78" stroke="none"/>
<circle cx="751" cy="1478" r="2.6" fill="#0c0c78" stroke="none"/>
<circle cx="751" cy="1653" r="2.6" fill="#0c0c78" stroke="none"/>
<polyline points="590,1478 590,1531" stroke="#0c0c78" stroke-width="1"/>
<polyline points="579,1531 600,1531" stroke="#0c0c78" stroke-width="1"/>
<path d="M579,1539 Q589.5,1534.2 600,1539" stroke="#0c0c78" fill="none" stroke-width="1"/>
<polyline points="590,1537 590,1653" stroke="#0c0c78" stroke-width="1"/>
<polyline points="644,1478 644,1518" stroke="#0c0c78" stroke-width="1"/>
<rect x="639" y="1518" width="10" height="27" fill="none" stroke="#1a1aa0" stroke-width="1"/>
<polyline points="644,1545 644,1599" stroke="#0c0c78" stroke-width="1"/>
<polygon points="630.5,1599 657.5,1599 644,1612" fill="#0000ff" stroke="none" stroke-width="1"/>
<polyline points="631,1612 658,1612" stroke="#0000ff" stroke-width="1"/>
<polyline points="663,1612 671,1620" stroke="#0000ff" stroke-width="1"/>
<polygon points="673,1622 667.5,1620 671,1616.5" fill="#0000ff" stroke="#0000ff" stroke-width="1"/>
<polyline points="658,1618 666,1626" stroke="#0000ff" stroke-width="1"/>
<polygon points="668,1628 662.5,1626 666,1622.5" fill="#0000ff" stroke="#0000ff" stroke-width="1"/>
<polyline points="644,1612 644,1653" stroke="#0c0c78" stroke-width="1"/>
<polyline points="704,1478 704,1559" stroke="#0c0c78" stroke-width="1"/>
<polygon points="690.5,1572 717.5,1572 704,1559" fill="#0000ff" stroke="none" stroke-width="1"/>
<polyline points="691,1559 718,1559" stroke="#0000ff" stroke-width="1"/>
<polyline points="704,1572 704,1653" stroke="#0c0c78" stroke-width="1"/>
<polyline points="751,1478 751,1558 783,1558" stroke="#0c0c78" stroke-width="1"/>
<polyline points="783,1558 800,1558" stroke="#000000" stroke-width="1"/>
<polyline points="805,1599 783,1599" stroke="#000000" stroke-width="1"/>
<polyline points="783,1599 751,1599 751,1653" stroke="#0c0c78" stroke-width="1"/>
<rect x="805" y="1550" width="14" height="57" fill="#ffffb4" stroke="#6e1010" stroke-width="1"/>
<polyline points="800,1558 819,1562" stroke="#0c0c78" stroke-width="1"/>
<circle cx="820.5" cy="1562.5" r="1.6" stroke="#0c0c78" fill="none"/>
<polyline points="800,1571 819,1577" stroke="#0c0c78" stroke-width="1"/>
<circle cx="820.5" cy="1577.5" r="1.6" stroke="#0c0c78" fill="none"/>
<polyline points="800,1586 819,1592" stroke="#0c0c78" stroke-width="1"/>
<circle cx="820.5" cy="1592.5" r="1.6" stroke="#0c0c78" fill="none"/>
<circle cx="803" cy="1571" r="1.6" stroke="#0c0c78" fill="none"/>
<circle cx="803" cy="1586" r="1.6" stroke="#0c0c78" fill="none"/>
<polyline points="798,1518 852,1518" stroke="#000000" stroke-width="1"/>
<polyline points="799,1518 804,1522 808,1518" stroke="#0c0c78" stroke-width="1"/>
<polyline points="799,1522 823,1531 871,1531" stroke="#0c0c78" stroke-width="1"/>
<polyline points="871,1531 900,1531 900,1808" stroke="#0c0c78" stroke-width="1"/>
<polyline points="798,1545 886,1545 886,1808" stroke="#0c0c78" stroke-width="1"/>
<polyline points="799,1545 804,1541 809,1545" stroke="#0c0c78" stroke-width="1"/>
<rect x="873" y="1808" width="40" height="40" fill="#ffffb4" stroke="#6e1010" stroke-width="1"/>
<polyline points="886,1782 886,1808" stroke="#000000" stroke-width="1"/>
<polyline points="900,1782 900,1808" stroke="#000000" stroke-width="1"/>
<polyline points="751,1653 751,1700" stroke="#0c0c78" stroke-width="1"/>
<polyline points="751,1700 743,1700" stroke="#0c0c78" stroke-width="1"/>
<polyline points="743,1697 743,1703" stroke="#0c0c78" stroke-width="1"/>
<polyline points="743,1710 743,1716" stroke="#0c0c78" stroke-width="1"/>
<polyline points="743,1723 743,1729" stroke="#0c0c78" stroke-width="1"/>
<polyline points="743,1713 751,1713 751,1727 743,1727" stroke="#0c0c78" stroke-width="1"/>
<polygon points="743.5,1713.5 748,1710.5 748,1716.5" fill="#0c0c78" stroke="#0c0c78" stroke-width="1"/>
<polyline points="738,1700 738,1727" stroke="#0c0c78" stroke-width="1"/>
<circle cx="744.8" cy="1713" r="19.6" stroke="#1818c0" fill="none"/>
<polyline points="751,1727 751,1813" stroke="#0c0c78" stroke-width="1"/>
<polyline points="751,1813 751,1828" stroke="#6a0c0c" stroke-width="1"/>
<polyline points="738,1828 765,1828" stroke="#6a0c0c" stroke-width="1"/>
<polyline points="742,1832 761,1832" stroke="#6a0c0c" stroke-width="1"/>
<polyline points="746,1836 757,1836" stroke="#6a0c0c" stroke-width="1"/>
<polyline points="750,1840 753,1840" stroke="#6a0c0c" stroke-width="1"/>
<polyline points="622,1727 738,1727" stroke="#0c0c78" stroke-width="1"/>
<circle cx="670" cy="1727" r="2.6" fill="#0c0c78" stroke="none"/>
<polyline points="670,1727 670,1760" stroke="#0c0c78" stroke-width="1"/>
<rect x="665" y="1760" width="10" height="27" fill="none" stroke="#1a1aa0" stroke-width="1"/>
<polyline points="670,1787 670,1813" stroke="#0c0c78" stroke-width="1"/>
<polyline points="670,1813 670,1828" stroke="#6a0c0c" stroke-width="1"/>
<polyline points="657,1828 684,1828" stroke="#6a0c0c" stroke-width="1"/>
<polyline points="661,1832 680,1832" stroke="#6a0c0c" stroke-width="1"/>
<polyline points="665,1836 676,1836" stroke="#6a0c0c" stroke-width="1"/>
<polyline points="669,1840 672,1840" stroke="#6a0c0c" stroke-width="1"/>
</g>
<g>
<text transform="translate(57,74.5) scale(0.88,1)" fill="#14105e" stroke="#14105e" text-anchor="start">VIN</text>
<text transform="translate(57,135.5) scale(0.88,1)" fill="#14105e" stroke="#14105e" text-anchor="start">INPUT</text>
<text transform="translate(84.5,94.5) scale(0.88,1)" fill="#000000" stroke="#000000" text-anchor="middle">2</text>
<text transform="translate(84.5,107.5) scale(0.88,1)" fill="#000000" stroke="#000000" text-anchor="middle">1</text>
<text transform="translate(145.5,215) scale(0.88,1)" fill="#6a0c0c" stroke="#6a0c0c" text-anchor="middle">GND</text>
<text transform="translate(192,209.5) scale(0.88,1)" fill="#14105e" stroke="#14105e" text-anchor="start">FB1</text>
<text transform="translate(192,222) scale(0.88,1)" fill="#14105e" stroke="#14105e" text-anchor="start">0R</text>
<text transform="translate(232.5,215) scale(0.88,1)" fill="#6a0c0c" stroke="#6a0c0c" text-anchor="middle">GND</text>
<text transform="translate(246,148) scale(0.88,1)" fill="#14105e" stroke="#14105e" text-anchor="start">C2</text>
<text transform="translate(246,162) scale(0.88,1)" fill="#14105e" stroke="#14105e" text-anchor="start">100uF-25V</text>
<text transform="translate(300,75) scale(0.88,1)" fill="#14105e" stroke="#14105e" text-anchor="start">REG1</text>
<text transform="translate(309,94.5) scale(0.88,1)" fill="#000000" stroke="#000000" text-anchor="start">VIN</text>
<text transform="translate(360,94.5) scale(0.88,1)" fill="#000000" stroke="#000000" text-anchor="start">OUT</text>
<text transform="translate(352,108.5) rotate(-90) scale(0.88,1)" fill="#000000" stroke="#000000" text-anchor="middle">GND</text>
<text transform="translate(287,88.5) scale(0.88,1)" fill="#000000" stroke="#000000" text-anchor="middle">1</text>
<text transform="translate(408,88.5) scale(0.88,1)" fill="#000000" stroke="#000000" text-anchor="middle">2</text>
<text transform="translate(347.5,215) scale(0.88,1)" fill="#6a0c0c" stroke="#6a0c0c" text-anchor="middle">GND</text>
<text transform="translate(345.5,144) rotate(-90) scale(0.88,1)" fill="#000000" stroke="#000000" text-anchor="middle">3</text>
<text transform="translate(362,148.5) scale(0.88,1)" fill="#14105e" stroke="#14105e" text-anchor="start">78M05</text>
<text transform="translate(489.5,47.7) scale(0.88,1)" fill="#6a0c0c" stroke="#6a0c0c" text-anchor="middle">RVCC</text>
<text transform="translate(456.5,215) scale(0.88,1)" fill="#6a0c0c" stroke="#6a0c0c" text-anchor="middle">GND</text>
<text transform="translate(467,140.5) scale(0.88,1)" fill="#14105e" stroke="#14105e" text-anchor="start">C1</text>
<text transform="translate(467,154.5) scale(0.88,1)" fill="#14105e" stroke="#14105e" text-anchor="start">10uF</text>
<text transform="translate(131.5,471) scale(0.88,1)" fill="#6a0c0c" stroke="#6a0c0c" text-anchor="middle">GND</text>
<text transform="translate(143,362.5) scale(0.88,1)" fill="#14105e" stroke="#14105e" text-anchor="start">C4</text>
<text transform="translate(143,376) scale(0.88,1)" fill="#14105e" stroke="#14105e" text-anchor="start">22uF-16V</text>
<text transform="translate(279,284) scale(0.88,1)" fill="#14105e" stroke="#14105e" text-anchor="start">REG2</text>
<text transform="translate(266,296.5) scale(0.88,1)" fill="#000000" stroke="#000000" text-anchor="middle">1</text>
<text transform="translate(387,296.5) scale(0.88,1)" fill="#000000" stroke="#000000" text-anchor="middle">2</text>
<text transform="translate(288,302.8) scale(0.88,1)" fill="#000000" stroke="#000000" text-anchor="start">VIN</text>
<text transform="translate(339,302.8) scale(0.88,1)" fill="#000000" stroke="#000000" text-anchor="start">OUT</text>
<text transform="translate(331.5,317.5) rotate(-90) scale(0.88,1)" fill="#000000" stroke="#000000" text-anchor="middle">GND</text>
<text transform="translate(327.5,478) scale(0.88,1)" fill="#6a0c0c" stroke="#6a0c0c" text-anchor="middle">GND</text>
<text transform="translate(324.5,352.5) rotate(-90) scale(0.88,1)" fill="#000000" stroke="#000000" text-anchor="middle">3</text>
<text transform="translate(339,357) scale(0.88,1)" fill="#14105e" stroke="#14105e" text-anchor="start">78M05</text>
<text transform="translate(448,344) scale(0.88,1)" fill="#14105e" stroke="#14105e" text-anchor="start">R1</text>
<text transform="translate(448,357) scale(0.88,1)" fill="#14105e" stroke="#14105e" text-anchor="start">470R</text>
<text transform="translate(441.5,478) scale(0.88,1)" fill="#6a0c0c" stroke="#6a0c0c" text-anchor="middle">GND</text>
<text transform="translate(394,418.5) scale(0.88,1)" fill="#14105e" stroke="#14105e" text-anchor="start">D1</text>
<text transform="translate(394,431.5) scale(0.88,1)" fill="#14105e" stroke="#14105e" text-anchor="start">GREEN</text>
<text transform="translate(509.5,478) scale(0.88,1)" fill="#6a0c0c" stroke="#6a0c0c" text-anchor="middle">GND</text>
<text transform="translate(521,362) scale(0.88,1)" fill="#14105e" stroke="#14105e" text-anchor="start">C5</text>
<text transform="translate(521,376) scale(0.88,1)" fill="#14105e" stroke="#14105e" text-anchor="start">10uF</text>
<text transform="translate(570.5,478) scale(0.88,1)" fill="#6a0c0c" stroke="#6a0c0c" text-anchor="middle">GND</text>
<text transform="translate(580.5,389.5) scale(0.88,1)" fill="#14105e" stroke="#14105e" text-anchor="start">C7</text>
<text transform="translate(580.5,403) scale(0.88,1)" fill="#14105e" stroke="#14105e" text-anchor="start">4.7uF</text>
<text transform="translate(569,263.7) scale(0.88,1)" fill="#6a0c0c" stroke="#6a0c0c" text-anchor="middle">+5V</text>
<text transform="translate(636,257) scale(0.88,1)" fill="#14105e" stroke="#14105e" text-anchor="start">REG3</text>
<text transform="translate(622,295.5) scale(0.88,1)" fill="#000000" stroke="#000000" text-anchor="middle">3</text>
<text transform="translate(645,303.5) scale(0.88,1)" fill="#000000" stroke="#000000" text-anchor="start">VIN</text>
<text transform="translate(695,300) rotate(-90) scale(0.88,1)" fill="#000000" stroke="#000000" text-anchor="middle">GND (ADJ)</text>
<text transform="translate(736,296) scale(0.88,1)" fill="#000000" stroke="#000000" text-anchor="start">OUT</text>
<text transform="translate(702,317.3) scale(0.88,1)" fill="#000000" stroke="#000000" text-anchor="start">OUT (TAB)</text>
<text transform="translate(784,289.5) scale(0.88,1)" fill="#000000" stroke="#000000" text-anchor="middle">2</text>
<text transform="translate(784,309.5) scale(0.88,1)" fill="#000000" stroke="#000000" text-anchor="middle">4</text>
<text transform="translate(710,357.5) scale(0.88,1)" fill="#14105e" stroke="#14105e" text-anchor="start">AMS1117X</text>
<text transform="translate(688,352) rotate(-90) scale(0.88,1)" fill="#000000" stroke="#000000" text-anchor="middle">1</text>
<text transform="translate(690.5,478) scale(0.88,1)" fill="#6a0c0c" stroke="#6a0c0c" text-anchor="middle">GND</text>
<text transform="translate(819.5,478) scale(0.88,1)" fill="#6a0c0c" stroke="#6a0c0c" text-anchor="middle">GND</text>
<text transform="translate(830,368.5) scale(0.88,1)" fill="#14105e" stroke="#14105e" text-anchor="start">C6</text>
<text transform="translate(830,382.5) scale(0.88,1)" fill="#14105e" stroke="#14105e" text-anchor="start">10uF</text>
<text transform="translate(879.5,478) scale(0.88,1)" fill="#6a0c0c" stroke="#6a0c0c" text-anchor="middle">GND</text>
<text transform="translate(890.5,396) scale(0.88,1)" fill="#14105e" stroke="#14105e" text-anchor="start">C8</text>
<text transform="translate(890.5,409.5) scale(0.88,1)" fill="#14105e" stroke="#14105e" text-anchor="start">4.7uF</text>
<text transform="translate(878.5,255.7) scale(0.88,1)" fill="#6a0c0c" stroke="#6a0c0c" text-anchor="middle">+3.3V</text>
<text transform="translate(50.5,585.7) scale(0.88,1)" fill="#6a0c0c" stroke="#6a0c0c" text-anchor="middle">+3.3V</text>
<text transform="translate(50.5,774) scale(0.88,1)" fill="#6a0c0c" stroke="#6a0c0c" text-anchor="middle">GND</text>
<text transform="translate(84.5,774) scale(0.88,1)" fill="#6a0c0c" stroke="#6a0c0c" text-anchor="middle">GND</text>
<text transform="translate(96,706) scale(0.88,1)" fill="#14105e" stroke="#14105e" text-anchor="start">C3</text>
<text transform="translate(96,720) scale(0.88,1)" fill="#14105e" stroke="#14105e" text-anchor="start">1uF</text>
<text transform="translate(104,660) scale(0.88,1)" fill="#6a0c0c" stroke="#6a0c0c" text-anchor="start">SDA</text>
<text transform="translate(104,673.5) scale(0.88,1)" fill="#6a0c0c" stroke="#6a0c0c" text-anchor="start">SCL</text>
<text transform="translate(165,620) scale(0.88,1)" fill="#14105e" stroke="#14105e" text-anchor="start">P2</text>
<text transform="translate(165,701) scale(0.88,1)" fill="#14105e" stroke="#14105e" text-anchor="start">Sensor</text>
<text transform="translate(177,640.5) scale(0.88,1)" fill="#000000" stroke="#000000" text-anchor="middle">1</text>
<text transform="translate(177,653.5) scale(0.88,1)" fill="#000000" stroke="#000000" text-anchor="middle">2</text>
<text transform="translate(177,667.5) scale(0.88,1)" fill="#000000" stroke="#000000" text-anchor="middle">3</text>
<text transform="translate(177,680.5) scale(0.88,1)" fill="#000000" stroke="#000000" text-anchor="middle">4</text>
<text transform="translate(293,579.5) scale(0.88,1)" fill="#14105e" stroke="#14105e" text-anchor="start">40P-0.5mm</text>
<text transform="translate(293,593) scale(0.88,1)" fill="#14105e" stroke="#14105e" text-anchor="start">CON1</text>
<text transform="translate(310,633.5) rotate(-90) scale(0.88,1)" fill="#000000" stroke="#000000" text-anchor="start">1</text>
<text transform="translate(303.5,652) rotate(-90) scale(0.88,1)" fill="#000000" stroke="#000000" text-anchor="end">1</text>
<text transform="translate(324,633.5) rotate(-90) scale(0.88,1)" fill="#000000" stroke="#000000" text-anchor="start">2</text>
<text transform="translate(317.5,652) rotate(-90) scale(0.88,1)" fill="#000000" stroke="#000000" text-anchor="end">2</text>
<text transform="translate(337,633.5) rotate(-90) scale(0.88,1)" fill="#000000" stroke="#000000" text-anchor="start">3</text>
<text transform="translate(330.5,652) rotate(-90) scale(0.88,1)" fill="#000000" stroke="#000000" text-anchor="end">3</text>
<text transform="translate(351,633.5) rotate(-90) scale(0.88,1)" fill="#000000" stroke="#000000" text-anchor="start">4</text>
<text transform="translate(344.5,652) rotate(-90) scale(0.88,1)" fill="#000000" stroke="#000000" text-anchor="end">4</text>
<text transform="translate(364,633.5) rotate(-90) scale(0.88,1)" fill="#000000" stroke="#000000" text-anchor="start">5</text>
<text transform="translate(357.5,652) rotate(-90) scale(0.88,1)" fill="#000000" stroke="#000000" text-anchor="end">5</text>
<text transform="translate(378,633.5) rotate(-90) scale(0.88,1)" fill="#000000" stroke="#000000" text-anchor="start">6</text>
<text transform="translate(371.5,652) rotate(-90) scale(0.88,1)" fill="#000000" stroke="#000000" text-anchor="end">6</text>
<text transform="translate(391,633.5) rotate(-90) scale(0.88,1)" fill="#000000" stroke="#000000" text-anchor="start">7</text>
<text transform="translate(384.5,652) rotate(-90) scale(0.88,1)" fill="#000000" stroke="#000000" text-anchor="end">7</text>
<text transform="translate(405,633.5) rotate(-90) scale(0.88,1)" fill="#000000" stroke="#000000" text-anchor="start">8</text>
<text transform="translate(398.5,652) rotate(-90) scale(0.88,1)" fill="#000000" stroke="#000000" text-anchor="end">8</text>
<text transform="translate(418,633.5) rotate(-90) scale(0.88,1)" fill="#000000" stroke="#000000" text-anchor="start">9</text>
<text transform="translate(411.5,652) rotate(-90) scale(0.88,1)" fill="#000000" stroke="#000000" text-anchor="end">9</text>
<text transform="translate(432,633.5) rotate(-90) scale(0.88,1)" fill="#000000" stroke="#000000" text-anchor="start">10</text>
<text transform="translate(425.5,652) rotate(-90) scale(0.88,1)" fill="#000000" stroke="#000000" text-anchor="end">10</text>
<text transform="translate(445,633.5) rotate(-90) scale(0.88,1)" fill="#000000" stroke="#000000" text-anchor="start">11</text>
<text transform="translate(438.5,652) rotate(-90) scale(0.88,1)" fill="#000000" stroke="#000000" text-anchor="end">11</text>
<text transform="translate(458,633.5) rotate(-90) scale(0.88,1)" fill="#000000" stroke="#000000" text-anchor="start">12</text>
<text transform="translate(451.5,652) rotate(-90) scale(0.88,1)" fill="#000000" stroke="#000000" text-anchor="end">12</text>
<text transform="translate(472,633.5) rotate(-90) scale(0.88,1)" fill="#000000" stroke="#000000" text-anchor="start">13</text>
<text transform="translate(465.5,652) rotate(-90) scale(0.88,1)" fill="#000000" stroke="#000000" text-anchor="end">13</text>
<text transform="translate(485,633.5) rotate(-90) scale(0.88,1)" fill="#000000" stroke="#000000" text-anchor="start">14</text>
<text transform="translate(478.5,652) rotate(-90) scale(0.88,1)" fill="#000000" stroke="#000000" text-anchor="end">14</text>
<text transform="translate(499,633.5) rotate(-90) scale(0.88,1)" fill="#000000" stroke="#000000" text-anchor="start">15</text>
<text transform="translate(492.5,652) rotate(-90) scale(0.88,1)" fill="#000000" stroke="#000000" text-anchor="end">15</text>
<text transform="translate(512,633.5) rotate(-90) scale(0.88,1)" fill="#000000" stroke="#000000" text-anchor="start">16</text>
<text transform="translate(505.5,652) rotate(-90) scale(0.88,1)" fill="#000000" stroke="#000000" text-anchor="end">16</text>
<text transform="translate(526,633.5) rotate(-90) scale(0.88,1)" fill="#000000" stroke="#000000" text-anchor="start">17</text>
<text transform="translate(519.5,652) rotate(-90) scale(0.88,1)" fill="#000000" stroke="#000000" text-anchor="end">17</text>
<text transform="translate(539,633.5) rotate(-90) scale(0.88,1)" fill="#000000" stroke="#000000" text-anchor="start">18</text>
<text transform="translate(532.5,652) rotate(-90) scale(0.88,1)" fill="#000000" stroke="#000000" text-anchor="end">18</text>
<text transform="translate(553,633.5) rotate(-90) scale(0.88,1)" fill="#000000" stroke="#000000" text-anchor="start">19</text>
<text transform="translate(546.5,652) rotate(-90) scale(0.88,1)" fill="#000000" stroke="#000000" text-anchor="end">19</text>
<text transform="translate(566,633.5) rotate(-90) scale(0.88,1)" fill="#000000" stroke="#000000" text-anchor="start">20</text>
<text transform="translate(559.5,652) rotate(-90) scale(0.88,1)" fill="#000000" stroke="#000000" text-anchor="end">20</text>
<text transform="translate(580,633.5) rotate(-90) scale(0.88,1)" fill="#000000" stroke="#000000" text-anchor="start">21</text>
<text transform="translate(573.5,652) rotate(-90) scale(0.88,1)" fill="#000000" stroke="#000000" text-anchor="end">21</text>
<text transform="translate(593,633.5) rotate(-90) scale(0.88,1)" fill="#000000" stroke="#000000" text-anchor="start">22</text>
<text transform="translate(586.5,652) rotate(-90) scale(0.88,1)" fill="#000000" stroke="#000000" text-anchor="end">22</text>
<text transform="translate(607,633.5) rotate(-90) scale(0.88,1)" fill="#000000" stroke="#000000" text-anchor="start">23</text>
<text transform="translate(600.5,652) rotate(-90) scale(0.88,1)" fill="#000000" stroke="#000000" text-anchor="end">23</text>
<text transform="translate(620,633.5) rotate(-90) scale(0.88,1)" fill="#000000" stroke="#000000" text-anchor="start">24</text>
<text transform="translate(613.5,652) rotate(-90) scale(0.88,1)" fill="#000000" stroke="#000000" text-anchor="end">24</text>
<text transform="translate(634,633.5) rotate(-90) scale(0.88,1)" fill="#000000" stroke="#000000" text-anchor="start">25</text>
<text transform="translate(627.5,652) rotate(-90) scale(0.88,1)" fill="#000000" stroke="#000000" text-anchor="end">25</text>
<text transform="translate(647,633.5) rotate(-90) scale(0.88,1)" fill="#000000" stroke="#000000" text-anchor="start">26</text>
<text transform="translate(640.5,652) rotate(-90) scale(0.88,1)" fill="#000000" stroke="#000000" text-anchor="end">26</text>
<text transform="translate(661,633.5) rotate(-90) scale(0.88,1)" fill="#000000" stroke="#000000" text-anchor="start">27</text>
<text transform="translate(654.5,652) rotate(-90) scale(0.88,1)" fill="#000000" stroke="#000000" text-anchor="end">27</text>
<text transform="translate(674,633.5) rotate(-90) scale(0.88,1)" fill="#000000" stroke="#000000" text-anchor="start">28</text>
<text transform="translate(667.5,652) rotate(-90) scale(0.88,1)" fill="#000000" stroke="#000000" text-anchor="end">28</text>
<text transform="translate(688,633.5) rotate(-90) scale(0.88,1)" fill="#000000" stroke="#000000" text-anchor="start">29</text>
<text transform="translate(681.5,652) rotate(-90) scale(0.88,1)" fill="#000000" stroke="#000000" text-anchor="end">29</text>
<text transform="translate(701,633.5) rotate(-90) scale(0.88,1)" fill="#000000" stroke="#000000" text-anchor="start">30</text>
<text transform="translate(694.5,652) rotate(-90) scale(0.88,1)" fill="#000000" stroke="#000000" text-anchor="end">30</text>
<text transform="translate(715,633.5) rotate(-90) scale(0.88,1)" fill="#000000" stroke="#000000" text-anchor="start">31</text>
<text transform="translate(708.5,652) rotate(-90) scale(0.88,1)" fill="#000000" stroke="#000000" text-anchor="end">31</text>
<text transform="translate(728,633.5) rotate(-90) scale(0.88,1)" fill="#000000" stroke="#000000" text-anchor="start">32</text>
<text transform="translate(721.5,652) rotate(-90) scale(0.88,1)" fill="#000000" stroke="#000000" text-anchor="end">32</text>
<text transform="translate(742,633.5) rotate(-90) scale(0.88,1)" fill="#000000" stroke="#000000" text-anchor="start">33</text>
<text transform="translate(735.5,652) rotate(-90) scale(0.88,1)" fill="#000000" stroke="#000000" text-anchor="end">33</text>
<text transform="translate(755,633.5) rotate(-90) scale(0.88,1)" fill="#000000" stroke="#000000" text-anchor="start">34</text>
<text transform="translate(748.5,652) rotate(-90) scale(0.88,1)" fill="#000000" stroke="#000000" text-anchor="end">34</text>
<text transform="translate(769,633.5) rotate(-90) scale(0.88,1)" fill="#000000" stroke="#000000" text-anchor="start">35</text>
<text transform="translate(762.5,652) rotate(-90) scale(0.88,1)" fill="#000000" stroke="#000000" text-anchor="end">35</text>
<text transform="translate(782,633.5) rotate(-90) scale(0.88,1)" fill="#000000" stroke="#000000" text-anchor="start">36</text>
<text transform="translate(775.5,652) rotate(-90) scale(0.88,1)" fill="#000000" stroke="#000000" text-anchor="end">36</text>
<text transform="translate(796,633.5) rotate(-90) scale(0.88,1)" fill="#000000" stroke="#000000" text-anchor="start">37</text>
<text transform="translate(789.5,652) rotate(-90) scale(0.88,1)" fill="#000000" stroke="#000000" text-anchor="end">37</text>
<text transform="translate(809,633.5) rotate(-90) scale(0.88,1)" fill="#000000" stroke="#000000" text-anchor="start">38</text>
<text transform="translate(802.5,652) rotate(-90) scale(0.88,1)" fill="#000000" stroke="#000000" text-anchor="end">38</text>
<text transform="translate(823,633.5) rotate(-90) scale(0.88,1)" fill="#000000" stroke="#000000" text-anchor="start">39</text>
<text transform="translate(816.5,652) rotate(-90) scale(0.88,1)" fill="#000000" stroke="#000000" text-anchor="end">39</text>
<text transform="translate(836,633.5) rotate(-90) scale(0.88,1)" fill="#000000" stroke="#000000" text-anchor="start">40</text>
<text transform="translate(829.5,652) rotate(-90) scale(0.88,1)" fill="#000000" stroke="#000000" text-anchor="end">40</text>
<text transform="translate(360.5,835) scale(0.88,1)" fill="#6a0c0c" stroke="#6a0c0c" text-anchor="middle">GND</text>
<text transform="translate(317,723) rotate(-90) scale(0.88,1)" fill="#6a0c0c" stroke="#6a0c0c" text-anchor="start">UP</text>
<text transform="translate(330,723) rotate(-90) scale(0.88,1)" fill="#6a0c0c" stroke="#6a0c0c" text-anchor="start">DOWN</text>
<text transform="translate(344,723) rotate(-90) scale(0.88,1)" fill="#6a0c0c" stroke="#6a0c0c" text-anchor="start">SWITCH</text>
<text transform="translate(411,723) rotate(-90) scale(0.88,1)" fill="#6a0c0c" stroke="#6a0c0c" text-anchor="start">CS</text>
<text transform="translate(425,723) rotate(-90) scale(0.88,1)" fill="#6a0c0c" stroke="#6a0c0c" text-anchor="start">SCK</text>
<text transform="translate(438,723) rotate(-90) scale(0.88,1)" fill="#6a0c0c" stroke="#6a0c0c" text-anchor="start">D/C</text>
<text transform="translate(465,723) rotate(-90) scale(0.88,1)" fill="#6a0c0c" stroke="#6a0c0c" text-anchor="start">MOSI</text>
<text transform="translate(478,723) rotate(-90) scale(0.88,1)" fill="#6a0c0c" stroke="#6a0c0c" text-anchor="start">MISO</text>
<text transform="translate(492,723) rotate(-90) scale(0.88,1)" fill="#6a0c0c" stroke="#6a0c0c" text-anchor="start">RES</text>
<text transform="translate(454.5,834.7) scale(0.88,1)" fill="#6a0c0c" stroke="#6a0c0c" text-anchor="middle">+3.3V</text>
<text transform="translate(616.5,794) scale(0.88,1)" fill="#6a0c0c" stroke="#6a0c0c" text-anchor="middle">GND</text>
<text transform="translate(704.5,794.7) scale(0.88,1)" fill="#6a0c0c" stroke="#6a0c0c" text-anchor="middle">+3.3V</text>
<text transform="translate(765.5,794) scale(0.88,1)" fill="#6a0c0c" stroke="#6a0c0c" text-anchor="middle">GND</text>
<text transform="translate(832.5,841) scale(0.88,1)" fill="#6a0c0c" stroke="#6a0c0c" text-anchor="middle">GND</text>
<text transform="translate(913.5,841.7) scale(0.88,1)" fill="#6a0c0c" stroke="#6a0c0c" text-anchor="middle">+3.3V</text>
<text transform="translate(838,754.5) scale(0.88,1)" fill="#14105e" stroke="#14105e" text-anchor="start">R2</text>
<text transform="translate(838,767.5) scale(0.88,1)" fill="#14105e" stroke="#14105e" text-anchor="start">4.7K</text>
<text transform="translate(879,754.5) scale(0.88,1)" fill="#14105e" stroke="#14105e" text-anchor="start">R3</text>
<text transform="translate(879,767.5) scale(0.88,1)" fill="#14105e" stroke="#14105e" text-anchor="start">4.7K</text>
<text transform="translate(919,754.5) scale(0.88,1)" fill="#14105e" stroke="#14105e" text-anchor="start">R4</text>
<text transform="translate(919,767.5) scale(0.88,1)" fill="#14105e" stroke="#14105e" text-anchor="start">4.7K</text>
<text transform="translate(158,969.5) scale(0.88,1)" fill="#14105e" stroke="#14105e" text-anchor="start">PICO</text>
<text transform="translate(158,989.5) scale(0.88,1)" fill="#14105e" stroke="#14105e" text-anchor="start">PICO1</text>
<text transform="translate(148.5,1010) scale(0.88,1)" fill="#000000" stroke="#000000" text-anchor="end">1</text>
<text transform="translate(168,1016.5) scale(0.88,1)" fill="#000000" stroke="#000000" text-anchor="start">GP0</text>
<text transform="translate(303,1010) scale(0.88,1)" fill="#000000" stroke="#000000" text-anchor="start">40</text>
<text transform="translate(283.5,1016.5) scale(0.88,1)" fill="#000000" stroke="#000000" text-anchor="end">VBUS</text>
<text transform="translate(148.5,1023) scale(0.88,1)" fill="#000000" stroke="#000000" text-anchor="end">2</text>
<text transform="translate(168,1029.5) scale(0.88,1)" fill="#000000" stroke="#000000" text-anchor="start">GP1</text>
<text transform="translate(303,1023) scale(0.88,1)" fill="#000000" stroke="#000000" text-anchor="start">39</text>
<text transform="translate(283.5,1029.5) scale(0.88,1)" fill="#000000" stroke="#000000" text-anchor="end">VSYS</text>
<text transform="translate(148.5,1037) scale(0.88,1)" fill="#000000" stroke="#000000" text-anchor="end">3</text>
<text transform="translate(168,1043.5) scale(0.88,1)" fill="#000000" stroke="#000000" text-anchor="start">GND_1</text>
<text transform="translate(303,1037) scale(0.88,1)" fill="#000000" stroke="#000000" text-anchor="start">38</text>
<text transform="translate(283.5,1043.5) scale(0.88,1)" fill="#000000" stroke="#000000" text-anchor="end">GND_8</text>
<text transform="translate(148.5,1050) scale(0.88,1)" fill="#000000" stroke="#000000" text-anchor="end">4</text>
<text transform="translate(168,1056.5) scale(0.88,1)" fill="#000000" stroke="#000000" text-anchor="start">GP2</text>
<text transform="translate(303,1050) scale(0.88,1)" fill="#000000" stroke="#000000" text-anchor="start">37</text>
<text transform="translate(283.5,1056.5) scale(0.88,1)" fill="#000000" stroke="#000000" text-anchor="end">3V3_EN</text>
<text transform="translate(148.5,1064) scale(0.88,1)" fill="#000000" stroke="#000000" text-anchor="end">5</text>
<text transform="translate(168,1070.5) scale(0.88,1)" fill="#000000" stroke="#000000" text-anchor="start">GP3</text>
<text transform="translate(303,1064) scale(0.88,1)" fill="#000000" stroke="#000000" text-anchor="start">36</text>
<text transform="translate(283.5,1070.5) scale(0.88,1)" fill="#000000" stroke="#000000" text-anchor="end">3V3(OUT)</text>
<text transform="translate(148.5,1077) scale(0.88,1)" fill="#000000" stroke="#000000" text-anchor="end">6</text>
<text transform="translate(168,1083.5) scale(0.88,1)" fill="#000000" stroke="#000000" text-anchor="start">GP4</text>
<text transform="translate(303,1077) scale(0.88,1)" fill="#000000" stroke="#000000" text-anchor="start">35</text>
<text transform="translate(283.5,1083.5) scale(0.88,1)" fill="#000000" stroke="#000000" text-anchor="end">ADC_VREF</text>
<text transform="translate(148.5,1091) scale(0.88,1)" fill="#000000" stroke="#000000" text-anchor="end">7</text>
<text transform="translate(168,1097.5) scale(0.88,1)" fill="#000000" stroke="#000000" text-anchor="start">GP5</text>
<text transform="translate(303,1091) scale(0.88,1)" fill="#000000" stroke="#000000" text-anchor="start">34</text>
<text transform="translate(283.5,1097.5) scale(0.88,1)" fill="#000000" stroke="#000000" text-anchor="end">GP28_A2</text>
<text transform="translate(148.5,1104) scale(0.88,1)" fill="#000000" stroke="#000000" text-anchor="end">8</text>
<text transform="translate(168,1110.5) scale(0.88,1)" fill="#000000" stroke="#000000" text-anchor="start">GND_2</text>
<text transform="translate(303,1104) scale(0.88,1)" fill="#000000" stroke="#000000" text-anchor="start">33</text>
<text transform="translate(283.5,1110.5) scale(0.88,1)" fill="#000000" stroke="#000000" text-anchor="end">GND_7</text>
<text transform="translate(148.5,1117) scale(0.88,1)" fill="#000000" stroke="#000000" text-anchor="end">9</text>
<text transform="translate(168,1123.5) scale(0.88,1)" fill="#000000" stroke="#000000" text-anchor="start">GP6</text>
<text transform="translate(303,1117) scale(0.88,1)" fill="#000000" stroke="#000000" text-anchor="start">32</text>
<text transform="translate(283.5,1123.5) scale(0.88,1)" fill="#000000" stroke="#000000" text-anchor="end">GP27_A1</text>
<text transform="translate(148.5,1131) scale(0.88,1)" fill="#000000" stroke="#000000" text-anchor="end">10</text>
<text transform="translate(168,1137.5) scale(0.88,1)" fill="#000000" stroke="#000000" text-anchor="start">GP7</text>
<text transform="translate(303,1131) scale(0.88,1)" fill="#000000" stroke="#000000" text-anchor="start">31</text>
<text transform="translate(283.5,1137.5) scale(0.88,1)" fill="#000000" stroke="#000000" text-anchor="end">GP26_A0</text>
<text transform="translate(148.5,1144) scale(0.88,1)" fill="#000000" stroke="#000000" text-anchor="end">11</text>
<text transform="translate(168,1150.5) scale(0.88,1)" fill="#000000" stroke="#000000" text-anchor="start">GP8</text>
<text transform="translate(303,1144) scale(0.88,1)" fill="#000000" stroke="#000000" text-anchor="start">30</text>
<text transform="translate(283.5,1150.5) scale(0.88,1)" fill="#000000" stroke="#000000" text-anchor="end">RUN</text>
<text transform="translate(148.5,1158) scale(0.88,1)" fill="#000000" stroke="#000000" text-anchor="end">12</text>
<text transform="translate(168,1164.5) scale(0.88,1)" fill="#000000" stroke="#000000" text-anchor="start">GP9</text>
<text transform="translate(303,1158) scale(0.88,1)" fill="#000000" stroke="#000000" text-anchor="start">29</text>
<text transform="translate(283.5,1164.5) scale(0.88,1)" fill="#000000" stroke="#000000" text-anchor="end">GP22</text>
<text transform="translate(148.5,1171) scale(0.88,1)" fill="#000000" stroke="#000000" text-anchor="end">13</text>
<text transform="translate(168,1177.5) scale(0.88,1)" fill="#000000" stroke="#000000" text-anchor="start">GND_3</text>
<text transform="translate(303,1171) scale(0.88,1)" fill="#000000" stroke="#000000" text-anchor="start">28</text>
<text transform="translate(283.5,1177.5) scale(0.88,1)" fill="#000000" stroke="#000000" text-anchor="end">GND_6</text>
<text transform="translate(148.5,1185) scale(0.88,1)" fill="#000000" stroke="#000000" text-anchor="end">14</text>
<text transform="translate(168,1191.5) scale(0.88,1)" fill="#000000" stroke="#000000" text-anchor="start">GP10</text>
<text transform="translate(303,1185) scale(0.88,1)" fill="#000000" stroke="#000000" text-anchor="start">27</text>
<text transform="translate(283.5,1191.5) scale(0.88,1)" fill="#000000" stroke="#000000" text-anchor="end">GP21</text>
<text transform="translate(148.5,1198) scale(0.88,1)" fill="#000000" stroke="#000000" text-anchor="end">15</text>
<text transform="translate(168,1204.5) scale(0.88,1)" fill="#000000" stroke="#000000" text-anchor="start">GP11</text>
<text transform="translate(303,1198) scale(0.88,1)" fill="#000000" stroke="#000000" text-anchor="start">26</text>
<text transform="translate(283.5,1204.5) scale(0.88,1)" fill="#000000" stroke="#000000" text-anchor="end">GP20</text>
<text transform="translate(148.5,1212) scale(0.88,1)" fill="#000000" stroke="#000000" text-anchor="end">16</text>
<text transform="translate(168,1218.5) scale(0.88,1)" fill="#000000" stroke="#000000" text-anchor="start">GP12</text>
<text transform="translate(303,1212) scale(0.88,1)" fill="#000000" stroke="#000000" text-anchor="start">25</text>
<text transform="translate(283.5,1218.5) scale(0.88,1)" fill="#000000" stroke="#000000" text-anchor="end">GP19</text>
<text transform="translate(148.5,1225) scale(0.88,1)" fill="#000000" stroke="#000000" text-anchor="end">17</text>
<text transform="translate(168,1231.5) scale(0.88,1)" fill="#000000" stroke="#000000" text-anchor="start">GP13</text>
<text transform="translate(303,1225) scale(0.88,1)" fill="#000000" stroke="#000000" text-anchor="start">24</text>
<text transform="translate(283.5,1231.5) scale(0.88,1)" fill="#000000" stroke="#000000" text-anchor="end">GP18</text>
<text transform="translate(148.5,1239) scale(0.88,1)" fill="#000000" stroke="#000000" text-anchor="end">18</text>
<text transform="translate(168,1245.5) scale(0.88,1)" fill="#000000" stroke="#000000" text-anchor="start">GND_4</text>
<text transform="translate(303,1239) scale(0.88,1)" fill="#000000" stroke="#000000" text-anchor="start">23</text>
<text transform="translate(283.5,1245.5) scale(0.88,1)" fill="#000000" stroke="#000000" text-anchor="end">GND_5</text>
<text transform="translate(148.5,1252) scale(0.88,1)" fill="#000000" stroke="#000000" text-anchor="end">19</text>
<text transform="translate(168,1258.5) scale(0.88,1)" fill="#000000" stroke="#000000" text-anchor="start">GP14</text>
<text transform="translate(303,1252) scale(0.88,1)" fill="#000000" stroke="#000000" text-anchor="start">22</text>
<text transform="translate(283.5,1258.5) scale(0.88,1)" fill="#000000" stroke="#000000" text-anchor="end">GP17</text>
<text transform="translate(148.5,1266) scale(0.88,1)" fill="#000000" stroke="#000000" text-anchor="end">20</text>
<text transform="translate(168,1272.5) scale(0.88,1)" fill="#000000" stroke="#000000" text-anchor="start">GP15</text>
<text transform="translate(303,1266) scale(0.88,1)" fill="#000000" stroke="#000000" text-anchor="start">21</text>
<text transform="translate(283.5,1272.5) scale(0.88,1)" fill="#000000" stroke="#000000" text-anchor="end">GP16</text>
<text transform="translate(50.5,1333) scale(0.88,1)" fill="#6a0c0c" stroke="#6a0c0c" text-anchor="middle">GND</text>
<text transform="translate(76.5,1117) scale(0.88,1)" fill="#6a0c0c" stroke="#6a0c0c" text-anchor="start">SWITCH</text>
<text transform="translate(76.5,1131) scale(0.88,1)" fill="#6a0c0c" stroke="#6a0c0c" text-anchor="start">CS</text>
<text transform="translate(76.5,1144) scale(0.88,1)" fill="#6a0c0c" stroke="#6a0c0c" text-anchor="start">UP</text>
<text transform="translate(76.5,1158) scale(0.88,1)" fill="#6a0c0c" stroke="#6a0c0c" text-anchor="start">DOWN</text>
<text transform="translate(76.5,1185) scale(0.88,1)" fill="#6a0c0c" stroke="#6a0c0c" text-anchor="start">SCK</text>
<text transform="translate(76.5,1198) scale(0.88,1)" fill="#6a0c0c" stroke="#6a0c0c" text-anchor="start">MOSI</text>
<text transform="translate(76.5,1212) scale(0.88,1)" fill="#6a0c0c" stroke="#6a0c0c" text-anchor="start">MISO</text>
<text transform="translate(76.5,1225) scale(0.88,1)" fill="#6a0c0c" stroke="#6a0c0c" text-anchor="start">D/C</text>
<text transform="translate(76.5,1252) scale(0.88,1)" fill="#6a0c0c" stroke="#6a0c0c" text-anchor="start">RES</text>
<text transform="translate(366.5,915.7) scale(0.88,1)" fill="#6a0c0c" stroke="#6a0c0c" text-anchor="middle">+5V</text>
<text transform="translate(387,983) scale(0.88,1)" fill="#14105e" stroke="#14105e" text-anchor="start">D2</text>
<text transform="translate(387,997) scale(0.88,1)" fill="#14105e" stroke="#14105e" text-anchor="start">1N5822-SMA</text>
<text transform="translate(401.5,1333) scale(0.88,1)" fill="#6a0c0c" stroke="#6a0c0c" text-anchor="middle">GND</text>
<text transform="translate(362.5,1185) scale(0.88,1)" fill="#6a0c0c" stroke="#6a0c0c" text-anchor="end">SCL</text>
<text transform="translate(362.5,1198) scale(0.88,1)" fill="#6a0c0c" stroke="#6a0c0c" text-anchor="end">SDA</text>
<text transform="translate(362.5,1225) scale(0.88,1)" fill="#6a0c0c" stroke="#6a0c0c" text-anchor="end">OUT1</text>
<text transform="translate(362.5,1266) scale(0.88,1)" fill="#6a0c0c" stroke="#6a0c0c" text-anchor="end">OUT2</text>
<text transform="translate(209.5,1361) rotate(-90) scale(0.88,1)" fill="#000000" stroke="#000000" text-anchor="start">D1</text>
<text transform="translate(215.5,1327) rotate(-90) scale(0.88,1)" fill="#000000" stroke="#000000" text-anchor="start">SWCLK</text>
<text transform="translate(223.5,1361) rotate(-90) scale(0.88,1)" fill="#000000" stroke="#000000" text-anchor="start">D2</text>
<text transform="translate(229.5,1327) rotate(-90) scale(0.88,1)" fill="#000000" stroke="#000000" text-anchor="start">GND_9</text>
<text transform="translate(236.5,1361) rotate(-90) scale(0.88,1)" fill="#000000" stroke="#000000" text-anchor="start">D3</text>
<text transform="translate(242.5,1327) rotate(-90) scale(0.88,1)" fill="#000000" stroke="#000000" text-anchor="start">SWDIO</text>
<text transform="translate(596.5,1097) scale(0.88,1)" fill="#6a0c0c" stroke="#6a0c0c" text-anchor="middle">GND</text>
<text transform="translate(616,929.5) scale(0.88,1)" fill="#6a0c0c" stroke="#6a0c0c" text-anchor="start">UP</text>
<text transform="translate(608,1003.5) scale(0.88,1)" fill="#14105e" stroke="#14105e" text-anchor="start">C11</text>
<text transform="translate(608,1016) scale(0.88,1)" fill="#14105e" stroke="#14105e" text-anchor="start">1uF</text>
<text transform="translate(670.5,1097) scale(0.88,1)" fill="#6a0c0c" stroke="#6a0c0c" text-anchor="middle">GND</text>
<text transform="translate(690,929.5) scale(0.88,1)" fill="#6a0c0c" stroke="#6a0c0c" text-anchor="start">DOWN</text>
<text transform="translate(682,1003.5) scale(0.88,1)" fill="#14105e" stroke="#14105e" text-anchor="start">C12</text>
<text transform="translate(682,1016) scale(0.88,1)" fill="#14105e" stroke="#14105e" text-anchor="start">1uF</text>
<text transform="translate(758.5,1097) scale(0.88,1)" fill="#6a0c0c" stroke="#6a0c0c" text-anchor="middle">GND</text>
<text transform="translate(777,929.5) scale(0.88,1)" fill="#6a0c0c" stroke="#6a0c0c" text-anchor="start">SWITCH</text>
<text transform="translate(770,1003.5) scale(0.88,1)" fill="#14105e" stroke="#14105e" text-anchor="start">C13</text>
<text transform="translate(770,1016) scale(0.88,1)" fill="#14105e" stroke="#14105e" text-anchor="start">1uF</text>
<text transform="translate(878.5,929.7) scale(0.88,1)" fill="#6a0c0c" stroke="#6a0c0c" text-anchor="middle">+3.3V</text>
<text transform="translate(899,1036.5) scale(0.88,1)" fill="#6a0c0c" stroke="#6a0c0c" text-anchor="start">RES</text>
<text transform="translate(886,977) scale(0.88,1)" fill="#14105e" stroke="#14105e" text-anchor="start">R7</text>
<text transform="translate(886,990.5) scale(0.88,1)" fill="#14105e" stroke="#14105e" text-anchor="start">4.7K</text>
<text transform="translate(359.5,1441.7) scale(0.88,1)" fill="#6a0c0c" stroke="#6a0c0c" text-anchor="middle">RVCC</text>
<text transform="translate(204.5,1555.5) scale(0.88,1)" fill="#14105e" stroke="#14105e" text-anchor="start">C9</text>
<text transform="translate(184,1537) rotate(-90) scale(0.88,1)" fill="#14105e" stroke="#14105e" text-anchor="middle">1uF-16V</text>
<text transform="translate(258.5,1529) scale(0.88,1)" fill="#14105e" stroke="#14105e" text-anchor="start">R5</text>
<text transform="translate(258.5,1543.5) scale(0.88,1)" fill="#14105e" stroke="#14105e" text-anchor="start">470R</text>
<text transform="translate(231.5,1590) scale(0.88,1)" fill="#14105e" stroke="#14105e" text-anchor="start">D5</text>
<text transform="translate(225,1630.5) scale(0.88,1)" fill="#14105e" stroke="#14105e" text-anchor="start">RED</text>
<text transform="translate(328,1568) scale(0.88,1)" fill="#14105e" stroke="#14105e" text-anchor="start">D3</text>
<text transform="translate(328,1582) scale(0.88,1)" fill="#14105e" stroke="#14105e" text-anchor="start">1N4007</text>
<text transform="translate(394,1555.5) scale(0.88,1)" fill="#000000" stroke="#000000" text-anchor="middle">4</text>
<text transform="translate(394,1596) scale(0.88,1)" fill="#000000" stroke="#000000" text-anchor="middle">5</text>
<text transform="translate(399,1618) scale(0.88,1)" fill="#14105e" stroke="#14105e" text-anchor="start">LM1-5D</text>
<text transform="translate(399,1512.5) scale(0.88,1)" fill="#14105e" stroke="#14105e" text-anchor="start">K1</text>
<text transform="translate(448,1516) scale(0.88,1)" fill="#000000" stroke="#000000" text-anchor="middle">2</text>
<text transform="translate(448,1529.5) scale(0.88,1)" fill="#000000" stroke="#000000" text-anchor="middle">1</text>
<text transform="translate(448,1543.5) scale(0.88,1)" fill="#000000" stroke="#000000" text-anchor="middle">3</text>
<text transform="translate(492,1794) rotate(-90) scale(0.88,1)" fill="#000000" stroke="#000000" text-anchor="middle">1</text>
<text transform="translate(506,1794) rotate(-90) scale(0.88,1)" fill="#000000" stroke="#000000" text-anchor="middle">2</text>
<text transform="translate(499,1820) rotate(-90) scale(0.88,1)" fill="#000000" stroke="#000000" text-anchor="middle">1</text>
<text transform="translate(513,1820) rotate(-90) scale(0.88,1)" fill="#000000" stroke="#000000" text-anchor="middle">2</text>
<text transform="translate(481.5,1859) scale(0.88,1)" fill="#14105e" stroke="#14105e" text-anchor="start">P3</text>
<text transform="translate(360.5,1852) scale(0.88,1)" fill="#6a0c0c" stroke="#6a0c0c" text-anchor="middle">GND</text>
<text transform="translate(231.5,1724.5) scale(0.88,1)" fill="#6a0c0c" stroke="#6a0c0c" text-anchor="start">OUT1</text>
<text transform="translate(279.5,1852) scale(0.88,1)" fill="#6a0c0c" stroke="#6a0c0c" text-anchor="middle">GND</text>
<text transform="translate(285.5,1772) scale(0.88,1)" fill="#14105e" stroke="#14105e" text-anchor="start">R8</text>
<text transform="translate(285.5,1785) scale(0.88,1)" fill="#14105e" stroke="#14105e" text-anchor="start">4.7K</text>
<text transform="translate(319.5,1724) scale(0.88,1)" fill="#000000" stroke="#000000" text-anchor="middle">1</text>
<text transform="translate(359,1672.5) rotate(-90) scale(0.88,1)" fill="#000000" stroke="#000000" text-anchor="middle">3</text>
<text transform="translate(359,1753.5) rotate(-90) scale(0.88,1)" fill="#000000" stroke="#000000" text-anchor="middle">2</text>
<text transform="translate(364,1693) scale(0.88,1)" fill="#14105e" stroke="#14105e" text-anchor="start">D</text>
<text transform="translate(331,1738) scale(0.88,1)" fill="#14105e" stroke="#14105e" text-anchor="start">G</text>
<text transform="translate(364,1740.5) scale(0.88,1)" fill="#14105e" stroke="#14105e" text-anchor="start">S</text>
<text transform="translate(379.5,1718) scale(0.88,1)" fill="#14105e" stroke="#14105e" text-anchor="start">Q1</text>
<text transform="translate(379.5,1731.5) scale(0.88,1)" fill="#14105e" stroke="#14105e" text-anchor="start">2N7002</text>
<text transform="translate(750.5,1441.7) scale(0.88,1)" fill="#6a0c0c" stroke="#6a0c0c" text-anchor="middle">RVCC</text>
<text transform="translate(595.5,1555.5) scale(0.88,1)" fill="#14105e" stroke="#14105e" text-anchor="start">C10</text>
<text transform="translate(575,1537) rotate(-90) scale(0.88,1)" fill="#14105e" stroke="#14105e" text-anchor="middle">1uF-16V</text>
<text transform="translate(649.5,1529) scale(0.88,1)" fill="#14105e" stroke="#14105e" text-anchor="start">R6</text>
<text transform="translate(649.5,1543.5) scale(0.88,1)" fill="#14105e" stroke="#14105e" text-anchor="start">470R</text>
<text transform="translate(622.5,1590) scale(0.88,1)" fill="#14105e" stroke="#14105e" text-anchor="start">D6</text>
<text transform="translate(616,1630.5) scale(0.88,1)" fill="#14105e" stroke="#14105e" text-anchor="start">RED</text>
<text transform="translate(719,1568) scale(0.88,1)" fill="#14105e" stroke="#14105e" text-anchor="start">D4</text>
<text transform="translate(719,1582) scale(0.88,1)" fill="#14105e" stroke="#14105e" text-anchor="start">1N4007</text>
<text transform="translate(785,1555.5) scale(0.88,1)" fill="#000000" stroke="#000000" text-anchor="middle">4</text>
<text transform="translate(785,1596) scale(0.88,1)" fill="#000000" stroke="#000000" text-anchor="middle">5</text>
<text transform="translate(790,1618) scale(0.88,1)" fill="#14105e" stroke="#14105e" text-anchor="start">LM1-5D</text>
<text transform="translate(790,1512.5) scale(0.88,1)" fill="#14105e" stroke="#14105e" text-anchor="start">K2</text>
<text transform="translate(839,1516) scale(0.88,1)" fill="#000000" stroke="#000000" text-anchor="middle">2</text>
<text transform="translate(839,1529.5) scale(0.88,1)" fill="#000000" stroke="#000000" text-anchor="middle">1</text>
<text transform="translate(839,1543.5) scale(0.88,1)" fill="#000000" stroke="#000000" text-anchor="middle">3</text>
<text transform="translate(883,1794) rotate(-90) scale(0.88,1)" fill="#000000" stroke="#000000" text-anchor="middle">1</text>
<text transform="translate(897,1794) rotate(-90) scale(0.88,1)" fill="#000000" stroke="#000000" text-anchor="middle">2</text>
<text transform="translate(890,1820) rotate(-90) scale(0.88,1)" fill="#000000" stroke="#000000" text-anchor="middle">1</text>
<text transform="translate(904,1820) rotate(-90) scale(0.88,1)" fill="#000000" stroke="#000000" text-anchor="middle">2</text>
<text transform="translate(872.5,1859) scale(0.88,1)" fill="#14105e" stroke="#14105e" text-anchor="start">P4</text>
<text transform="translate(751.5,1852) scale(0.88,1)" fill="#6a0c0c" stroke="#6a0c0c" text-anchor="middle">GND</text>
<text transform="translate(622.5,1724.5) scale(0.88,1)" fill="#6a0c0c" stroke="#6a0c0c" text-anchor="start">OUT2</text>
<text transform="translate(670.5,1852) scale(0.88,1)" fill="#6a0c0c" stroke="#6a0c0c" text-anchor="middle">GND</text>
<text transform="translate(676.5,1772) scale(0.88,1)" fill="#14105e" stroke="#14105e" text-anchor="start">R9</text>
<text transform="translate(676.5,1785) scale(0.88,1)" fill="#14105e" stroke="#14105e" text-anchor="start">4.7K</text>
<text transform="translate(710.5,1724) scale(0.88,1)" fill="#000000" stroke="#000000" text-anchor="middle">1</text>
<text transform="translate(750,1672.5) rotate(-90) scale(0.88,1)" fill="#000000" stroke="#000000" text-anchor="middle">3</text>
<text transform="translate(750,1753.5) rotate(-90) scale(0.88,1)" fill="#000000" stroke="#000000" text-anchor="middle">2</text>
<text transform="translate(755,1693) scale(0.88,1)" fill="#14105e" stroke="#14105e" text-anchor="start">D</text>
<text transform="translate(722,1738) scale(0.88,1)" fill="#14105e" stroke="#14105e" text-anchor="start">G</text>
<text transform="translate(755,1740.5) scale(0.88,1)" fill="#14105e" stroke="#14105e" text-anchor="start">S</text>
<text transform="translate(770.5,1718) scale(0.88,1)" fill="#14105e" stroke="#14105e" text-anchor="start">Q2</text>
<text transform="translate(770.5,1731.5) scale(0.88,1)" fill="#14105e" stroke="#14105e" text-anchor="start">2N7002</text>
</g>
<g class="lg" font-weight="bold">
<text transform="translate(543,1275) skewX(-18) scale(1.0,1)" fill="#1e1e1e" stroke="#1e1e1e" stroke-linejoin="round" style="stroke-width:6.5px;font-family:'Liberation Sans',sans-serif;font-weight:bold;font-style:normal;font-size:110px">Altıum</text>
<text transform="translate(686,1324) skewX(-18) scale(0.93,1)" fill="#a38f5f" stroke="#a38f5f" stroke-linejoin="round" style="stroke-width:3.5px;font-family:'Liberation Sans',sans-serif;font-weight:bold;font-style:normal;font-size:56px">Desıgner</text>
<circle cx="919.5" cy="1323" r="4.3" fill="none" stroke="#1e1e1e" stroke-width="1.2"/>
<text x="919.5" y="1325.6" text-anchor="middle" fill="#1e1e1e" style="font-family:'Liberation Sans',sans-serif;font-weight:bold;font-size:7px">R</text>
</g>
<defs><filter id="er" x="-5%" y="-5%" width="110%" height="110%"><feMorphology operator="erode" radius="3.5"/></filter><filter id="bl" x="-2%" y="-2%" width="104%" height="104%"><feGaussianBlur stdDeviation="0.8"/></filter></defs>
<g style="mix-blend-mode:multiply"><g filter="url(#bl)"><g transform="translate(261,1750) rotate(-67)">
<text y="0" style="font-family:'Liberation Sans',sans-serif;font-size:398px" fill="#e4e3e2"><tspan x="-47">M</tspan><tspan x="268">y</tspan><tspan x="478">V</tspan><tspan x="700">a</tspan><tspan x="912">n</tspan><tspan x="1137">i</tspan><tspan x="1211">t</tspan><tspan x="1317">a</tspan><tspan x="1528">r</tspan></text>
<text y="0" style="font-family:'Liberation Sans',sans-serif;font-size:398px" fill="#eaf4f5" filter="url(#er)"><tspan x="-47">M</tspan><tspan x="268">y</tspan><tspan x="478">V</tspan><tspan x="700">a</tspan><tspan x="912">n</tspan><tspan x="1137">i</tspan><tspan x="1211">t</tspan><tspan x="1317">a</tspan><tspan x="1528">r</tspan></text>
</g></g></g>
</svg></body></html>
